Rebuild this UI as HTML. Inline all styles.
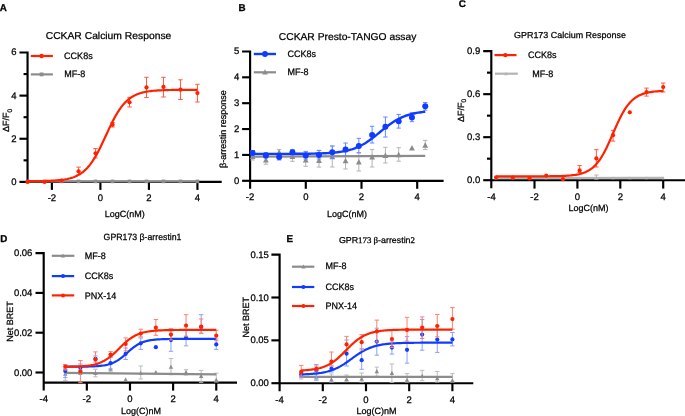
<!DOCTYPE html>
<html><head><meta charset="utf-8"><style>
html,body{margin:0;padding:0;background:#fff;}
svg{display:block;} text{stroke:#000;stroke-width:0.25px;text-rendering:geometricPrecision;} text.b{stroke-width:0.3px;} .wrap{will-change:transform;filter:blur(0.3px);}
</style></head><body>
<div class="wrap"><svg width="685" height="416" viewBox="0 0 685 416">
<rect width="685" height="416" fill="#fff"/>
<path d="M19.45,52.48 H27.55 V182.90" fill="none" stroke="#000" stroke-width="2.15"/>
<line x1="27.55" y1="181.90" x2="221.70" y2="181.90" stroke="#000" stroke-width="2.15" stroke-linecap="butt"/>
<line x1="19.45" y1="181.90" x2="27.55" y2="181.90" stroke="#000" stroke-width="2.15" stroke-linecap="butt"/>
<line x1="19.45" y1="138.76" x2="27.55" y2="138.76" stroke="#000" stroke-width="2.15" stroke-linecap="butt"/>
<line x1="19.45" y1="95.62" x2="27.55" y2="95.62" stroke="#000" stroke-width="2.15" stroke-linecap="butt"/>
<line x1="23.55" y1="160.33" x2="27.55" y2="160.33" stroke="#000" stroke-width="2.15" stroke-linecap="butt"/>
<line x1="23.55" y1="117.19" x2="27.55" y2="117.19" stroke="#000" stroke-width="2.15" stroke-linecap="butt"/>
<line x1="23.55" y1="74.05" x2="27.55" y2="74.05" stroke="#000" stroke-width="2.15" stroke-linecap="butt"/>
<line x1="51.88" y1="181.90" x2="51.88" y2="189.90" stroke="#000" stroke-width="2.15" stroke-linecap="butt"/>
<line x1="100.40" y1="181.90" x2="100.40" y2="189.90" stroke="#000" stroke-width="2.15" stroke-linecap="butt"/>
<line x1="148.92" y1="181.90" x2="148.92" y2="189.90" stroke="#000" stroke-width="2.15" stroke-linecap="butt"/>
<line x1="197.44" y1="181.90" x2="197.44" y2="189.90" stroke="#000" stroke-width="2.15" stroke-linecap="butt"/>
<text x="16.60" y="184.90" font-size="9.5" text-anchor="end" font-weight="normal" font-family='"Liberation Sans", sans-serif' >0</text>
<text x="16.60" y="141.76" font-size="9.5" text-anchor="end" font-weight="normal" font-family='"Liberation Sans", sans-serif' >2</text>
<text x="16.60" y="98.62" font-size="9.5" text-anchor="end" font-weight="normal" font-family='"Liberation Sans", sans-serif' >4</text>
<text x="16.60" y="55.48" font-size="9.5" text-anchor="end" font-weight="normal" font-family='"Liberation Sans", sans-serif' >6</text>
<text x="51.88" y="201.30" font-size="9.5" text-anchor="middle" font-weight="normal" font-family='"Liberation Sans", sans-serif' >-2</text>
<text x="100.40" y="201.30" font-size="9.5" text-anchor="middle" font-weight="normal" font-family='"Liberation Sans", sans-serif' >0</text>
<text x="148.92" y="201.30" font-size="9.5" text-anchor="middle" font-weight="normal" font-family='"Liberation Sans", sans-serif' >2</text>
<text x="197.44" y="201.30" font-size="9.5" text-anchor="middle" font-weight="normal" font-family='"Liberation Sans", sans-serif' >4</text>
<text x="104.80" y="216.60" font-size="9" text-anchor="start" font-weight="normal" font-family='"Liberation Sans", sans-serif' >LogC(nM)</text>
<text x="-0.20" y="10.80" font-size="9.8" text-anchor="start" font-weight="bold" font-family='"Liberation Sans", sans-serif'  class="b">A</text>
<text x="45.70" y="38.70" font-size="10" text-anchor="start" font-weight="normal" font-family='"Liberation Sans", sans-serif'  textLength="125.6" lengthAdjust="spacingAndGlyphs">CCKAR Calcium Response</text>
<text transform="translate(9.3,132) rotate(-90)" font-size="9" font-family='"Liberation Sans", sans-serif'>ΔF/F<tspan font-size="6.5" dy="2.6">0</tspan></text>
<line x1="30.80" y1="56.00" x2="52.90" y2="56.00" stroke="#ff2200" stroke-width="2.2" stroke-linecap="butt"/>
<circle cx="41.60" cy="56.00" r="2.2" fill="#ff2200"/>
<line x1="30.80" y1="74.40" x2="52.90" y2="74.40" stroke="#8c8c8c" stroke-width="2.2" stroke-linecap="butt"/>
<rect x="39.70" y="72.50" width="3.8" height="3.8" fill="#8c8c8c"/>
<text transform="translate(64.10,58.60) scale(0.97,1.0)" font-size="9.3" text-anchor="start" font-weight="normal" font-family='"Liberation Sans", sans-serif' >CCK8s</text>
<text transform="translate(64.30,77.10) scale(0.97,1.0)" font-size="9.3" text-anchor="start" font-weight="normal" font-family='"Liberation Sans", sans-serif' >MF-8</text>
<line x1="27.62" y1="181.40" x2="197.44" y2="181.40" stroke="#8c8c8c" stroke-width="2.2" stroke-linecap="butt"/>
<rect x="25.82" y="179.60" width="3.6" height="3.6" fill="#8c8c8c"/>
<rect x="42.80" y="179.60" width="3.6" height="3.6" fill="#8c8c8c"/>
<rect x="59.78" y="179.60" width="3.6" height="3.6" fill="#8c8c8c"/>
<rect x="76.77" y="179.60" width="3.6" height="3.6" fill="#8c8c8c"/>
<rect x="93.75" y="179.60" width="3.6" height="3.6" fill="#8c8c8c"/>
<rect x="110.73" y="179.60" width="3.6" height="3.6" fill="#8c8c8c"/>
<rect x="127.71" y="179.60" width="3.6" height="3.6" fill="#8c8c8c"/>
<rect x="144.69" y="179.60" width="3.6" height="3.6" fill="#8c8c8c"/>
<rect x="161.68" y="179.60" width="3.6" height="3.6" fill="#8c8c8c"/>
<rect x="178.66" y="179.60" width="3.6" height="3.6" fill="#8c8c8c"/>
<rect x="195.64" y="179.60" width="3.6" height="3.6" fill="#8c8c8c"/>
<line x1="78.57" y1="167.10" x2="78.57" y2="174.70" stroke="#ff5a3c" stroke-width="1" stroke-linecap="butt"/>
<line x1="76.37" y1="167.10" x2="80.77" y2="167.10" stroke="#ff5a3c" stroke-width="1" stroke-linecap="butt"/>
<line x1="76.37" y1="174.70" x2="80.77" y2="174.70" stroke="#ff5a3c" stroke-width="1" stroke-linecap="butt"/>
<line x1="95.55" y1="148.60" x2="95.55" y2="157.90" stroke="#ff5a3c" stroke-width="1" stroke-linecap="butt"/>
<line x1="93.35" y1="148.60" x2="97.75" y2="148.60" stroke="#ff5a3c" stroke-width="1" stroke-linecap="butt"/>
<line x1="93.35" y1="157.90" x2="97.75" y2="157.90" stroke="#ff5a3c" stroke-width="1" stroke-linecap="butt"/>
<line x1="112.53" y1="122.50" x2="112.53" y2="127.00" stroke="#ff5a3c" stroke-width="1" stroke-linecap="butt"/>
<line x1="110.33" y1="122.50" x2="114.73" y2="122.50" stroke="#ff5a3c" stroke-width="1" stroke-linecap="butt"/>
<line x1="110.33" y1="127.00" x2="114.73" y2="127.00" stroke="#ff5a3c" stroke-width="1" stroke-linecap="butt"/>
<line x1="129.51" y1="97.30" x2="129.51" y2="107.00" stroke="#ff5a3c" stroke-width="1" stroke-linecap="butt"/>
<line x1="127.31" y1="97.30" x2="131.71" y2="97.30" stroke="#ff5a3c" stroke-width="1" stroke-linecap="butt"/>
<line x1="127.31" y1="107.00" x2="131.71" y2="107.00" stroke="#ff5a3c" stroke-width="1" stroke-linecap="butt"/>
<line x1="146.49" y1="77.30" x2="146.49" y2="97.50" stroke="#ff5a3c" stroke-width="1" stroke-linecap="butt"/>
<line x1="144.29" y1="77.30" x2="148.69" y2="77.30" stroke="#ff5a3c" stroke-width="1" stroke-linecap="butt"/>
<line x1="144.29" y1="97.50" x2="148.69" y2="97.50" stroke="#ff5a3c" stroke-width="1" stroke-linecap="butt"/>
<line x1="163.48" y1="77.30" x2="163.48" y2="97.00" stroke="#ff5a3c" stroke-width="1" stroke-linecap="butt"/>
<line x1="161.28" y1="77.30" x2="165.68" y2="77.30" stroke="#ff5a3c" stroke-width="1" stroke-linecap="butt"/>
<line x1="161.28" y1="97.00" x2="165.68" y2="97.00" stroke="#ff5a3c" stroke-width="1" stroke-linecap="butt"/>
<line x1="180.46" y1="79.80" x2="180.46" y2="99.50" stroke="#ff5a3c" stroke-width="1" stroke-linecap="butt"/>
<line x1="178.26" y1="79.80" x2="182.66" y2="79.80" stroke="#ff5a3c" stroke-width="1" stroke-linecap="butt"/>
<line x1="178.26" y1="99.50" x2="182.66" y2="99.50" stroke="#ff5a3c" stroke-width="1" stroke-linecap="butt"/>
<line x1="197.44" y1="84.30" x2="197.44" y2="102.00" stroke="#ff5a3c" stroke-width="1" stroke-linecap="butt"/>
<line x1="195.24" y1="84.30" x2="199.64" y2="84.30" stroke="#ff5a3c" stroke-width="1" stroke-linecap="butt"/>
<line x1="195.24" y1="102.00" x2="199.64" y2="102.00" stroke="#ff5a3c" stroke-width="1" stroke-linecap="butt"/>
<polyline points="27.62,181.20 29.04,181.19 30.45,181.18 31.87,181.17 33.28,181.16 34.70,181.15 36.11,181.13 37.53,181.11 38.94,181.09 40.36,181.07 41.77,181.05 43.19,181.02 44.60,180.98 46.02,180.94 47.43,180.90 48.85,180.85 50.26,180.79 51.68,180.72 53.09,180.65 54.51,180.56 55.92,180.46 57.34,180.35 58.75,180.22 60.17,180.08 61.58,179.91 63.00,179.72 64.41,179.51 65.83,179.26 67.24,178.98 68.66,178.66 70.08,178.30 71.49,177.89 72.91,177.43 74.32,176.91 75.74,176.32 77.15,175.65 78.57,174.90 79.98,174.06 81.40,173.12 82.81,172.06 84.23,170.89 85.64,169.59 87.06,168.16 88.47,166.58 89.89,164.85 91.30,162.96 92.72,160.91 94.13,158.71 95.55,156.35 96.96,153.85 98.38,151.20 99.79,148.43 101.21,145.55 102.62,142.59 104.04,139.57 105.45,136.51 106.87,133.44 108.28,130.39 109.70,127.38 111.11,124.45 112.53,121.61 113.95,118.88 115.36,116.28 116.78,113.83 118.19,111.53 119.61,109.38 121.02,107.39 122.44,105.56 123.85,103.89 125.27,102.36 126.68,100.97 128.10,99.72 129.51,98.59 130.93,97.58 132.34,96.68 133.76,95.87 135.17,95.15 136.59,94.51 138.00,93.95 139.42,93.45 140.83,93.00 142.25,92.61 143.66,92.27 145.08,91.96 146.49,91.70 147.91,91.46 149.32,91.26 150.74,91.08 152.15,90.92 153.57,90.78 154.99,90.66 156.40,90.55 157.82,90.45 159.23,90.37 160.65,90.30 162.06,90.24 163.48,90.18 164.89,90.13 166.31,90.09 167.72,90.05 169.14,90.02 170.55,89.99 171.97,89.97 173.38,89.95 174.80,89.93 176.21,89.91 177.63,89.90 179.04,89.88 180.46,89.87 181.87,89.86 183.29,89.86 184.70,89.85 186.12,89.84 187.53,89.84 188.95,89.83 190.36,89.83 191.78,89.82 193.19,89.82 194.61,89.82 196.02,89.81 197.44,89.81" fill="none" stroke="#ff2200" stroke-width="2.2" stroke-linejoin="round"/>
<circle cx="27.62" cy="181.90" r="2.15" fill="#ff2200"/>
<circle cx="44.60" cy="181.90" r="2.15" fill="#ff2200"/>
<circle cx="61.58" cy="180.60" r="2.15" fill="#ff2200"/>
<circle cx="78.57" cy="171.30" r="2.15" fill="#ff2200"/>
<circle cx="95.55" cy="153.30" r="2.15" fill="#ff2200"/>
<circle cx="112.53" cy="124.70" r="2.15" fill="#ff2200"/>
<circle cx="129.51" cy="102.30" r="2.15" fill="#ff2200"/>
<circle cx="146.49" cy="87.40" r="2.15" fill="#ff2200"/>
<circle cx="163.48" cy="86.90" r="2.15" fill="#ff2200"/>
<circle cx="180.46" cy="89.70" r="2.15" fill="#ff2200"/>
<circle cx="197.44" cy="93.10" r="2.15" fill="#ff2200"/>
<path d="M242.10,51.45 H250.10 V188.80" fill="none" stroke="#000" stroke-width="2.15"/>
<line x1="250.10" y1="180.80" x2="443.60" y2="180.80" stroke="#000" stroke-width="2.15" stroke-linecap="butt"/>
<line x1="242.10" y1="180.80" x2="250.10" y2="180.80" stroke="#000" stroke-width="2.15" stroke-linecap="butt"/>
<line x1="242.10" y1="154.93" x2="250.10" y2="154.93" stroke="#000" stroke-width="2.15" stroke-linecap="butt"/>
<line x1="242.10" y1="129.06" x2="250.10" y2="129.06" stroke="#000" stroke-width="2.15" stroke-linecap="butt"/>
<line x1="242.10" y1="103.19" x2="250.10" y2="103.19" stroke="#000" stroke-width="2.15" stroke-linecap="butt"/>
<line x1="242.10" y1="77.32" x2="250.10" y2="77.32" stroke="#000" stroke-width="2.15" stroke-linecap="butt"/>
<line x1="305.80" y1="180.80" x2="305.80" y2="188.80" stroke="#000" stroke-width="2.15" stroke-linecap="butt"/>
<line x1="361.50" y1="180.80" x2="361.50" y2="188.80" stroke="#000" stroke-width="2.15" stroke-linecap="butt"/>
<line x1="417.20" y1="180.80" x2="417.20" y2="188.80" stroke="#000" stroke-width="2.15" stroke-linecap="butt"/>
<text x="239.20" y="183.80" font-size="9.5" text-anchor="end" font-weight="normal" font-family='"Liberation Sans", sans-serif' >0</text>
<text x="239.20" y="157.93" font-size="9.5" text-anchor="end" font-weight="normal" font-family='"Liberation Sans", sans-serif' >1</text>
<text x="239.20" y="132.06" font-size="9.5" text-anchor="end" font-weight="normal" font-family='"Liberation Sans", sans-serif' >2</text>
<text x="239.20" y="106.19" font-size="9.5" text-anchor="end" font-weight="normal" font-family='"Liberation Sans", sans-serif' >3</text>
<text x="239.20" y="80.32" font-size="9.5" text-anchor="end" font-weight="normal" font-family='"Liberation Sans", sans-serif' >4</text>
<text x="239.20" y="54.45" font-size="9.5" text-anchor="end" font-weight="normal" font-family='"Liberation Sans", sans-serif' >5</text>
<text x="250.10" y="200.30" font-size="9.5" text-anchor="middle" font-weight="normal" font-family='"Liberation Sans", sans-serif' >-2</text>
<text x="305.80" y="200.30" font-size="9.5" text-anchor="middle" font-weight="normal" font-family='"Liberation Sans", sans-serif' >0</text>
<text x="361.50" y="200.30" font-size="9.5" text-anchor="middle" font-weight="normal" font-family='"Liberation Sans", sans-serif' >2</text>
<text x="417.20" y="200.30" font-size="9.5" text-anchor="middle" font-weight="normal" font-family='"Liberation Sans", sans-serif' >4</text>
<text x="327.00" y="216.50" font-size="9" text-anchor="start" font-weight="normal" font-family='"Liberation Sans", sans-serif' >LogC(nM)</text>
<text x="238.50" y="10.70" font-size="9.8" text-anchor="start" font-weight="bold" font-family='"Liberation Sans", sans-serif'  class="b">B</text>
<text x="278.80" y="40.30" font-size="10" text-anchor="start" font-weight="normal" font-family='"Liberation Sans", sans-serif'  textLength="137.5" lengthAdjust="spacingAndGlyphs">CCKAR Presto-TANGO assay</text>
<text transform="translate(226.3,168) rotate(-90)" font-size="9" font-family='"Liberation Sans", sans-serif'>β-arrestin response</text>
<line x1="253.80" y1="54.00" x2="276.00" y2="54.00" stroke="#0f3cff" stroke-width="2.4" stroke-linecap="butt"/>
<circle cx="265.00" cy="54.00" r="2.9" fill="#0f3cff"/>
<line x1="253.80" y1="72.30" x2="276.00" y2="72.30" stroke="#8c8c8c" stroke-width="2.2" stroke-linecap="butt"/>
<path d="M265.00,69.21 L267.80,74.53 L262.20,74.53 Z" fill="#8c8c8c"/>
<text transform="translate(287.50,56.90) scale(0.97,1.0)" font-size="9.3" text-anchor="start" font-weight="normal" font-family='"Liberation Sans", sans-serif' >CCK8s</text>
<text transform="translate(287.50,75.40) scale(0.97,1.0)" font-size="9.3" text-anchor="start" font-weight="normal" font-family='"Liberation Sans", sans-serif' >MF-8</text>
<line x1="252.60" y1="153.00" x2="252.60" y2="160.00" stroke="#b4b4b4" stroke-width="1" stroke-linecap="butt"/>
<line x1="250.40" y1="153.00" x2="254.80" y2="153.00" stroke="#b4b4b4" stroke-width="1" stroke-linecap="butt"/>
<line x1="250.40" y1="160.00" x2="254.80" y2="160.00" stroke="#b4b4b4" stroke-width="1" stroke-linecap="butt"/>
<line x1="265.88" y1="156.00" x2="265.88" y2="164.20" stroke="#b4b4b4" stroke-width="1" stroke-linecap="butt"/>
<line x1="263.68" y1="156.00" x2="268.08" y2="156.00" stroke="#b4b4b4" stroke-width="1" stroke-linecap="butt"/>
<line x1="263.68" y1="164.20" x2="268.08" y2="164.20" stroke="#b4b4b4" stroke-width="1" stroke-linecap="butt"/>
<line x1="279.16" y1="149.60" x2="279.16" y2="156.00" stroke="#b4b4b4" stroke-width="1" stroke-linecap="butt"/>
<line x1="276.96" y1="149.60" x2="281.36" y2="149.60" stroke="#b4b4b4" stroke-width="1" stroke-linecap="butt"/>
<line x1="276.96" y1="156.00" x2="281.36" y2="156.00" stroke="#b4b4b4" stroke-width="1" stroke-linecap="butt"/>
<line x1="292.44" y1="151.00" x2="292.44" y2="161.30" stroke="#b4b4b4" stroke-width="1" stroke-linecap="butt"/>
<line x1="290.24" y1="151.00" x2="294.64" y2="151.00" stroke="#b4b4b4" stroke-width="1" stroke-linecap="butt"/>
<line x1="290.24" y1="161.30" x2="294.64" y2="161.30" stroke="#b4b4b4" stroke-width="1" stroke-linecap="butt"/>
<line x1="305.72" y1="153.00" x2="305.72" y2="166.30" stroke="#b4b4b4" stroke-width="1" stroke-linecap="butt"/>
<line x1="303.52" y1="153.00" x2="307.92" y2="153.00" stroke="#b4b4b4" stroke-width="1" stroke-linecap="butt"/>
<line x1="303.52" y1="166.30" x2="307.92" y2="166.30" stroke="#b4b4b4" stroke-width="1" stroke-linecap="butt"/>
<line x1="319.00" y1="150.40" x2="319.00" y2="167.10" stroke="#b4b4b4" stroke-width="1" stroke-linecap="butt"/>
<line x1="316.80" y1="150.40" x2="321.20" y2="150.40" stroke="#b4b4b4" stroke-width="1" stroke-linecap="butt"/>
<line x1="316.80" y1="167.10" x2="321.20" y2="167.10" stroke="#b4b4b4" stroke-width="1" stroke-linecap="butt"/>
<line x1="332.28" y1="146.00" x2="332.28" y2="167.00" stroke="#b4b4b4" stroke-width="1" stroke-linecap="butt"/>
<line x1="330.08" y1="146.00" x2="334.48" y2="146.00" stroke="#b4b4b4" stroke-width="1" stroke-linecap="butt"/>
<line x1="330.08" y1="167.00" x2="334.48" y2="167.00" stroke="#b4b4b4" stroke-width="1" stroke-linecap="butt"/>
<line x1="345.56" y1="152.00" x2="345.56" y2="169.00" stroke="#b4b4b4" stroke-width="1" stroke-linecap="butt"/>
<line x1="343.36" y1="152.00" x2="347.76" y2="152.00" stroke="#b4b4b4" stroke-width="1" stroke-linecap="butt"/>
<line x1="343.36" y1="169.00" x2="347.76" y2="169.00" stroke="#b4b4b4" stroke-width="1" stroke-linecap="butt"/>
<line x1="358.84" y1="153.00" x2="358.84" y2="171.00" stroke="#b4b4b4" stroke-width="1" stroke-linecap="butt"/>
<line x1="356.64" y1="153.00" x2="361.04" y2="153.00" stroke="#b4b4b4" stroke-width="1" stroke-linecap="butt"/>
<line x1="356.64" y1="171.00" x2="361.04" y2="171.00" stroke="#b4b4b4" stroke-width="1" stroke-linecap="butt"/>
<line x1="372.12" y1="149.40" x2="372.12" y2="167.00" stroke="#b4b4b4" stroke-width="1" stroke-linecap="butt"/>
<line x1="369.92" y1="149.40" x2="374.32" y2="149.40" stroke="#b4b4b4" stroke-width="1" stroke-linecap="butt"/>
<line x1="369.92" y1="167.00" x2="374.32" y2="167.00" stroke="#b4b4b4" stroke-width="1" stroke-linecap="butt"/>
<line x1="385.40" y1="147.30" x2="385.40" y2="163.00" stroke="#b4b4b4" stroke-width="1" stroke-linecap="butt"/>
<line x1="383.20" y1="147.30" x2="387.60" y2="147.30" stroke="#b4b4b4" stroke-width="1" stroke-linecap="butt"/>
<line x1="383.20" y1="163.00" x2="387.60" y2="163.00" stroke="#b4b4b4" stroke-width="1" stroke-linecap="butt"/>
<line x1="398.68" y1="147.70" x2="398.68" y2="161.20" stroke="#b4b4b4" stroke-width="1" stroke-linecap="butt"/>
<line x1="396.48" y1="147.70" x2="400.88" y2="147.70" stroke="#b4b4b4" stroke-width="1" stroke-linecap="butt"/>
<line x1="396.48" y1="161.20" x2="400.88" y2="161.20" stroke="#b4b4b4" stroke-width="1" stroke-linecap="butt"/>
<line x1="425.24" y1="140.40" x2="425.24" y2="149.60" stroke="#b4b4b4" stroke-width="1" stroke-linecap="butt"/>
<line x1="423.04" y1="140.40" x2="427.44" y2="140.40" stroke="#b4b4b4" stroke-width="1" stroke-linecap="butt"/>
<line x1="423.04" y1="149.60" x2="427.44" y2="149.60" stroke="#b4b4b4" stroke-width="1" stroke-linecap="butt"/>
<line x1="252.60" y1="156.60" x2="425.24" y2="155.80" stroke="#8c8c8c" stroke-width="2.2" stroke-linecap="butt"/>
<path d="M252.60,153.40 L255.50,158.91 L249.70,158.91 Z" fill="#8c8c8c"/>
<path d="M265.88,156.90 L268.78,162.41 L262.98,162.41 Z" fill="#8c8c8c"/>
<path d="M279.16,149.30 L282.06,154.81 L276.26,154.81 Z" fill="#8c8c8c"/>
<path d="M292.44,153.40 L295.34,158.91 L289.54,158.91 Z" fill="#8c8c8c"/>
<path d="M305.72,156.90 L308.62,162.41 L302.82,162.41 Z" fill="#8c8c8c"/>
<path d="M319.00,157.50 L321.90,163.01 L316.10,163.01 Z" fill="#8c8c8c"/>
<path d="M332.28,153.70 L335.18,159.21 L329.38,159.21 Z" fill="#8c8c8c"/>
<path d="M345.56,157.80 L348.46,163.31 L342.66,163.31 Z" fill="#8c8c8c"/>
<path d="M358.84,159.10 L361.74,164.61 L355.94,164.61 Z" fill="#8c8c8c"/>
<path d="M372.12,154.10 L375.02,159.61 L369.22,159.61 Z" fill="#8c8c8c"/>
<path d="M385.40,152.60 L388.30,158.11 L382.50,158.11 Z" fill="#8c8c8c"/>
<path d="M398.68,151.80 L401.58,157.31 L395.78,157.31 Z" fill="#8c8c8c"/>
<path d="M411.96,145.10 L414.86,150.61 L409.06,150.61 Z" fill="#8c8c8c"/>
<path d="M425.24,142.20 L428.14,147.71 L422.34,147.71 Z" fill="#8c8c8c"/>
<line x1="252.60" y1="150.50" x2="252.60" y2="156.00" stroke="#6a86ff" stroke-width="1" stroke-linecap="butt"/>
<line x1="250.40" y1="150.50" x2="254.80" y2="150.50" stroke="#6a86ff" stroke-width="1" stroke-linecap="butt"/>
<line x1="250.40" y1="156.00" x2="254.80" y2="156.00" stroke="#6a86ff" stroke-width="1" stroke-linecap="butt"/>
<line x1="265.88" y1="152.50" x2="265.88" y2="158.00" stroke="#6a86ff" stroke-width="1" stroke-linecap="butt"/>
<line x1="263.68" y1="152.50" x2="268.08" y2="152.50" stroke="#6a86ff" stroke-width="1" stroke-linecap="butt"/>
<line x1="263.68" y1="158.00" x2="268.08" y2="158.00" stroke="#6a86ff" stroke-width="1" stroke-linecap="butt"/>
<line x1="279.16" y1="154.50" x2="279.16" y2="160.00" stroke="#6a86ff" stroke-width="1" stroke-linecap="butt"/>
<line x1="276.96" y1="154.50" x2="281.36" y2="154.50" stroke="#6a86ff" stroke-width="1" stroke-linecap="butt"/>
<line x1="276.96" y1="160.00" x2="281.36" y2="160.00" stroke="#6a86ff" stroke-width="1" stroke-linecap="butt"/>
<line x1="292.44" y1="149.60" x2="292.44" y2="155.00" stroke="#6a86ff" stroke-width="1" stroke-linecap="butt"/>
<line x1="290.24" y1="149.60" x2="294.64" y2="149.60" stroke="#6a86ff" stroke-width="1" stroke-linecap="butt"/>
<line x1="290.24" y1="155.00" x2="294.64" y2="155.00" stroke="#6a86ff" stroke-width="1" stroke-linecap="butt"/>
<line x1="305.72" y1="151.40" x2="305.72" y2="159.00" stroke="#6a86ff" stroke-width="1" stroke-linecap="butt"/>
<line x1="303.52" y1="151.40" x2="307.92" y2="151.40" stroke="#6a86ff" stroke-width="1" stroke-linecap="butt"/>
<line x1="303.52" y1="159.00" x2="307.92" y2="159.00" stroke="#6a86ff" stroke-width="1" stroke-linecap="butt"/>
<line x1="319.00" y1="150.40" x2="319.00" y2="159.00" stroke="#6a86ff" stroke-width="1" stroke-linecap="butt"/>
<line x1="316.80" y1="150.40" x2="321.20" y2="150.40" stroke="#6a86ff" stroke-width="1" stroke-linecap="butt"/>
<line x1="316.80" y1="159.00" x2="321.20" y2="159.00" stroke="#6a86ff" stroke-width="1" stroke-linecap="butt"/>
<line x1="332.28" y1="146.00" x2="332.28" y2="158.50" stroke="#6a86ff" stroke-width="1" stroke-linecap="butt"/>
<line x1="330.08" y1="146.00" x2="334.48" y2="146.00" stroke="#6a86ff" stroke-width="1" stroke-linecap="butt"/>
<line x1="330.08" y1="158.50" x2="334.48" y2="158.50" stroke="#6a86ff" stroke-width="1" stroke-linecap="butt"/>
<line x1="345.56" y1="143.00" x2="345.56" y2="155.60" stroke="#6a86ff" stroke-width="1" stroke-linecap="butt"/>
<line x1="343.36" y1="143.00" x2="347.76" y2="143.00" stroke="#6a86ff" stroke-width="1" stroke-linecap="butt"/>
<line x1="343.36" y1="155.60" x2="347.76" y2="155.60" stroke="#6a86ff" stroke-width="1" stroke-linecap="butt"/>
<line x1="358.84" y1="138.30" x2="358.84" y2="152.70" stroke="#6a86ff" stroke-width="1" stroke-linecap="butt"/>
<line x1="356.64" y1="138.30" x2="361.04" y2="138.30" stroke="#6a86ff" stroke-width="1" stroke-linecap="butt"/>
<line x1="356.64" y1="152.70" x2="361.04" y2="152.70" stroke="#6a86ff" stroke-width="1" stroke-linecap="butt"/>
<line x1="372.12" y1="126.30" x2="372.12" y2="143.00" stroke="#6a86ff" stroke-width="1" stroke-linecap="butt"/>
<line x1="369.92" y1="126.30" x2="374.32" y2="126.30" stroke="#6a86ff" stroke-width="1" stroke-linecap="butt"/>
<line x1="369.92" y1="143.00" x2="374.32" y2="143.00" stroke="#6a86ff" stroke-width="1" stroke-linecap="butt"/>
<line x1="385.40" y1="117.00" x2="385.40" y2="137.00" stroke="#6a86ff" stroke-width="1" stroke-linecap="butt"/>
<line x1="383.20" y1="117.00" x2="387.60" y2="117.00" stroke="#6a86ff" stroke-width="1" stroke-linecap="butt"/>
<line x1="383.20" y1="137.00" x2="387.60" y2="137.00" stroke="#6a86ff" stroke-width="1" stroke-linecap="butt"/>
<line x1="398.68" y1="114.40" x2="398.68" y2="128.10" stroke="#6a86ff" stroke-width="1" stroke-linecap="butt"/>
<line x1="396.48" y1="114.40" x2="400.88" y2="114.40" stroke="#6a86ff" stroke-width="1" stroke-linecap="butt"/>
<line x1="396.48" y1="128.10" x2="400.88" y2="128.10" stroke="#6a86ff" stroke-width="1" stroke-linecap="butt"/>
<line x1="411.96" y1="112.70" x2="411.96" y2="121.70" stroke="#6a86ff" stroke-width="1" stroke-linecap="butt"/>
<line x1="409.76" y1="112.70" x2="414.16" y2="112.70" stroke="#6a86ff" stroke-width="1" stroke-linecap="butt"/>
<line x1="409.76" y1="121.70" x2="414.16" y2="121.70" stroke="#6a86ff" stroke-width="1" stroke-linecap="butt"/>
<line x1="425.24" y1="102.50" x2="425.24" y2="110.20" stroke="#6a86ff" stroke-width="1" stroke-linecap="butt"/>
<line x1="423.04" y1="102.50" x2="427.44" y2="102.50" stroke="#6a86ff" stroke-width="1" stroke-linecap="butt"/>
<line x1="423.04" y1="110.20" x2="427.44" y2="110.20" stroke="#6a86ff" stroke-width="1" stroke-linecap="butt"/>
<polyline points="252.60,153.89 254.04,153.89 255.48,153.89 256.92,153.89 258.35,153.89 259.79,153.89 261.23,153.89 262.67,153.89 264.11,153.89 265.55,153.89 266.99,153.89 268.43,153.89 269.86,153.89 271.30,153.88 272.74,153.88 274.18,153.88 275.62,153.88 277.06,153.88 278.50,153.88 279.93,153.87 281.37,153.87 282.81,153.87 284.25,153.87 285.69,153.86 287.13,153.86 288.57,153.85 290.01,153.85 291.44,153.84 292.88,153.84 294.32,153.83 295.76,153.82 297.20,153.81 298.64,153.81 300.08,153.80 301.51,153.78 302.95,153.77 304.39,153.76 305.83,153.74 307.27,153.72 308.71,153.70 310.15,153.68 311.59,153.66 313.02,153.63 314.46,153.60 315.90,153.56 317.34,153.53 318.78,153.48 320.22,153.44 321.66,153.38 323.09,153.32 324.53,153.26 325.97,153.19 327.41,153.11 328.85,153.02 330.29,152.92 331.73,152.81 333.17,152.69 334.60,152.55 336.04,152.40 337.48,152.23 338.92,152.05 340.36,151.85 341.80,151.62 343.24,151.37 344.67,151.10 346.11,150.80 347.55,150.47 348.99,150.11 350.43,149.71 351.87,149.28 353.31,148.81 354.75,148.30 356.18,147.74 357.62,147.14 359.06,146.49 360.50,145.80 361.94,145.05 363.38,144.26 364.82,143.41 366.25,142.52 367.69,141.57 369.13,140.58 370.57,139.55 372.01,138.48 373.45,137.38 374.89,136.24 376.33,135.09 377.76,133.91 379.20,132.72 380.64,131.54 382.08,130.35 383.52,129.18 384.96,128.02 386.40,126.89 387.83,125.78 389.27,124.72 390.71,123.69 392.15,122.70 393.59,121.76 395.03,120.87 396.47,120.03 397.91,119.23 399.34,118.49 400.78,117.80 402.22,117.15 403.66,116.55 405.10,116.00 406.54,115.49 407.98,115.02 409.41,114.59 410.85,114.20 412.29,113.84 413.73,113.51 415.17,113.21 416.61,112.94 418.05,112.69 419.49,112.47 420.92,112.27 422.36,112.09 423.80,111.92 425.24,111.77" fill="none" stroke="#0f3cff" stroke-width="2.4" stroke-linejoin="round"/>
<circle cx="252.60" cy="153.10" r="3.0" fill="#0f3cff"/>
<circle cx="265.88" cy="155.40" r="3.0" fill="#0f3cff"/>
<circle cx="279.16" cy="157.00" r="3.0" fill="#0f3cff"/>
<circle cx="292.44" cy="152.30" r="3.0" fill="#0f3cff"/>
<circle cx="305.72" cy="155.40" r="3.0" fill="#0f3cff"/>
<circle cx="319.00" cy="154.90" r="3.0" fill="#0f3cff"/>
<circle cx="332.28" cy="152.30" r="3.0" fill="#0f3cff"/>
<circle cx="345.56" cy="149.40" r="3.0" fill="#0f3cff"/>
<circle cx="358.84" cy="146.00" r="3.0" fill="#0f3cff"/>
<circle cx="372.12" cy="135.00" r="3.0" fill="#0f3cff"/>
<circle cx="385.40" cy="126.80" r="3.0" fill="#0f3cff"/>
<circle cx="398.68" cy="121.20" r="3.0" fill="#0f3cff"/>
<circle cx="411.96" cy="117.50" r="3.0" fill="#0f3cff"/>
<circle cx="425.24" cy="106.30" r="3.0" fill="#0f3cff"/>
<path d="M483.20,51.14 H491.30 V188.20" fill="none" stroke="#000" stroke-width="2.15"/>
<line x1="491.30" y1="180.20" x2="685.00" y2="180.20" stroke="#000" stroke-width="2.15" stroke-linecap="butt"/>
<line x1="483.20" y1="180.20" x2="491.30" y2="180.20" stroke="#000" stroke-width="2.15" stroke-linecap="butt"/>
<line x1="483.20" y1="137.18" x2="491.30" y2="137.18" stroke="#000" stroke-width="2.15" stroke-linecap="butt"/>
<line x1="483.20" y1="94.16" x2="491.30" y2="94.16" stroke="#000" stroke-width="2.15" stroke-linecap="butt"/>
<line x1="487.00" y1="158.69" x2="491.30" y2="158.69" stroke="#000" stroke-width="2.15" stroke-linecap="butt"/>
<line x1="487.00" y1="115.67" x2="491.30" y2="115.67" stroke="#000" stroke-width="2.15" stroke-linecap="butt"/>
<line x1="487.00" y1="72.65" x2="491.30" y2="72.65" stroke="#000" stroke-width="2.15" stroke-linecap="butt"/>
<line x1="534.50" y1="180.20" x2="534.50" y2="188.60" stroke="#000" stroke-width="2.15" stroke-linecap="butt"/>
<line x1="577.40" y1="180.20" x2="577.40" y2="188.60" stroke="#000" stroke-width="2.15" stroke-linecap="butt"/>
<line x1="620.30" y1="180.20" x2="620.30" y2="188.60" stroke="#000" stroke-width="2.15" stroke-linecap="butt"/>
<line x1="663.20" y1="180.20" x2="663.20" y2="188.60" stroke="#000" stroke-width="2.15" stroke-linecap="butt"/>
<text x="480.20" y="183.20" font-size="9.5" text-anchor="end" font-weight="normal" font-family='"Liberation Sans", sans-serif' >0.0</text>
<text x="480.20" y="140.18" font-size="9.5" text-anchor="end" font-weight="normal" font-family='"Liberation Sans", sans-serif' >0.3</text>
<text x="480.20" y="97.16" font-size="9.5" text-anchor="end" font-weight="normal" font-family='"Liberation Sans", sans-serif' >0.6</text>
<text x="480.20" y="54.14" font-size="9.5" text-anchor="end" font-weight="normal" font-family='"Liberation Sans", sans-serif' >0.9</text>
<text x="491.60" y="200.00" font-size="9.5" text-anchor="middle" font-weight="normal" font-family='"Liberation Sans", sans-serif' >-4</text>
<text x="534.50" y="200.00" font-size="9.5" text-anchor="middle" font-weight="normal" font-family='"Liberation Sans", sans-serif' >-2</text>
<text x="577.40" y="200.00" font-size="9.5" text-anchor="middle" font-weight="normal" font-family='"Liberation Sans", sans-serif' >0</text>
<text x="620.30" y="200.00" font-size="9.5" text-anchor="middle" font-weight="normal" font-family='"Liberation Sans", sans-serif' >2</text>
<text x="663.20" y="200.00" font-size="9.5" text-anchor="middle" font-weight="normal" font-family='"Liberation Sans", sans-serif' >4</text>
<text x="568.50" y="210.60" font-size="9" text-anchor="start" font-weight="normal" font-family='"Liberation Sans", sans-serif' >LogC(nM)</text>
<text x="458.80" y="6.90" font-size="9.8" text-anchor="start" font-weight="bold" font-family='"Liberation Sans", sans-serif'  class="b">C</text>
<text x="514.00" y="37.60" font-size="8.7" text-anchor="start" font-weight="normal" font-family='"Liberation Sans", sans-serif'  textLength="111.9" lengthAdjust="spacingAndGlyphs">GPR173 Calcium Response</text>
<text transform="translate(463.8,122) rotate(-90)" font-size="9" font-family='"Liberation Sans", sans-serif'>ΔF/F<tspan font-size="6.5" dy="2.6">0</tspan></text>
<line x1="494.50" y1="55.10" x2="516.50" y2="55.10" stroke="#ff2200" stroke-width="2.2" stroke-linecap="butt"/>
<circle cx="505.30" cy="55.10" r="2.2" fill="#ff2200"/>
<line x1="495.00" y1="73.70" x2="517.80" y2="73.70" stroke="#b4b4b4" stroke-width="2.2" stroke-linecap="butt"/>
<path d="M506.00,71.72 L507.80,75.14 L504.20,75.14 Z" fill="#b4b4b4"/>
<text transform="translate(527.90,57.70) scale(0.97,1.0)" font-size="9.3" text-anchor="start" font-weight="normal" font-family='"Liberation Sans", sans-serif' >CCK8s</text>
<text transform="translate(532.20,76.50) scale(0.97,1.0)" font-size="9.3" text-anchor="start" font-weight="normal" font-family='"Liberation Sans", sans-serif' >MF-8</text>
<line x1="496.10" y1="178.00" x2="663.20" y2="177.80" stroke="#b4b4b4" stroke-width="2.2" stroke-linecap="butt"/>
<line x1="596.36" y1="175.00" x2="596.36" y2="179.00" stroke="#b4b4b4" stroke-width="1" stroke-linecap="butt"/>
<line x1="594.16" y1="175.00" x2="598.56" y2="175.00" stroke="#b4b4b4" stroke-width="1" stroke-linecap="butt"/>
<line x1="594.16" y1="179.00" x2="598.56" y2="179.00" stroke="#b4b4b4" stroke-width="1" stroke-linecap="butt"/>
<path d="M496.10,176.35 L497.60,179.20 L494.60,179.20 Z" fill="#b4b4b4"/>
<path d="M512.81,176.35 L514.31,179.20 L511.31,179.20 Z" fill="#b4b4b4"/>
<path d="M529.52,176.35 L531.02,179.20 L528.02,179.20 Z" fill="#b4b4b4"/>
<path d="M546.23,176.35 L547.73,179.20 L544.73,179.20 Z" fill="#b4b4b4"/>
<path d="M562.94,176.35 L564.44,179.20 L561.44,179.20 Z" fill="#b4b4b4"/>
<path d="M579.65,176.35 L581.15,179.20 L578.15,179.20 Z" fill="#b4b4b4"/>
<path d="M596.36,176.35 L597.86,179.20 L594.86,179.20 Z" fill="#b4b4b4"/>
<path d="M613.07,176.35 L614.57,179.20 L611.57,179.20 Z" fill="#b4b4b4"/>
<path d="M629.78,176.35 L631.28,179.20 L628.28,179.20 Z" fill="#b4b4b4"/>
<path d="M646.49,176.35 L647.99,179.20 L644.99,179.20 Z" fill="#b4b4b4"/>
<path d="M663.20,176.35 L664.70,179.20 L661.70,179.20 Z" fill="#b4b4b4"/>
<line x1="579.65" y1="165.60" x2="579.65" y2="172.50" stroke="#ff5a3c" stroke-width="1" stroke-linecap="butt"/>
<line x1="577.45" y1="165.60" x2="581.85" y2="165.60" stroke="#ff5a3c" stroke-width="1" stroke-linecap="butt"/>
<line x1="577.45" y1="172.50" x2="581.85" y2="172.50" stroke="#ff5a3c" stroke-width="1" stroke-linecap="butt"/>
<line x1="596.36" y1="149.70" x2="596.36" y2="167.00" stroke="#ff5a3c" stroke-width="1" stroke-linecap="butt"/>
<line x1="594.16" y1="149.70" x2="598.56" y2="149.70" stroke="#ff5a3c" stroke-width="1" stroke-linecap="butt"/>
<line x1="594.16" y1="167.00" x2="598.56" y2="167.00" stroke="#ff5a3c" stroke-width="1" stroke-linecap="butt"/>
<line x1="613.07" y1="130.30" x2="613.07" y2="141.10" stroke="#ff5a3c" stroke-width="1" stroke-linecap="butt"/>
<line x1="610.87" y1="130.30" x2="615.27" y2="130.30" stroke="#ff5a3c" stroke-width="1" stroke-linecap="butt"/>
<line x1="610.87" y1="141.10" x2="615.27" y2="141.10" stroke="#ff5a3c" stroke-width="1" stroke-linecap="butt"/>
<line x1="646.49" y1="88.10" x2="646.49" y2="96.10" stroke="#ff5a3c" stroke-width="1" stroke-linecap="butt"/>
<line x1="644.29" y1="88.10" x2="648.69" y2="88.10" stroke="#ff5a3c" stroke-width="1" stroke-linecap="butt"/>
<line x1="644.29" y1="96.10" x2="648.69" y2="96.10" stroke="#ff5a3c" stroke-width="1" stroke-linecap="butt"/>
<line x1="663.20" y1="83.10" x2="663.20" y2="92.00" stroke="#ff5a3c" stroke-width="1" stroke-linecap="butt"/>
<line x1="661.00" y1="83.10" x2="665.40" y2="83.10" stroke="#ff5a3c" stroke-width="1" stroke-linecap="butt"/>
<line x1="661.00" y1="92.00" x2="665.40" y2="92.00" stroke="#ff5a3c" stroke-width="1" stroke-linecap="butt"/>
<polyline points="496.10,176.33 497.49,176.33 498.88,176.33 500.28,176.33 501.67,176.33 503.06,176.33 504.46,176.33 505.85,176.33 507.24,176.33 508.63,176.33 510.03,176.33 511.42,176.33 512.81,176.33 514.20,176.33 515.60,176.33 516.99,176.33 518.38,176.32 519.77,176.32 521.16,176.32 522.56,176.32 523.95,176.32 525.34,176.32 526.74,176.32 528.13,176.32 529.52,176.32 530.91,176.32 532.31,176.31 533.70,176.31 535.09,176.31 536.48,176.30 537.88,176.30 539.27,176.30 540.66,176.29 542.05,176.29 543.45,176.28 544.84,176.27 546.23,176.26 547.62,176.25 549.01,176.24 550.41,176.22 551.80,176.21 553.19,176.19 554.59,176.17 555.98,176.14 557.37,176.11 558.76,176.08 560.16,176.03 561.55,175.99 562.94,175.93 564.33,175.87 565.73,175.80 567.12,175.71 568.51,175.61 569.90,175.50 571.30,175.36 572.69,175.21 574.08,175.03 575.47,174.83 576.87,174.59 578.26,174.32 579.65,174.00 581.04,173.64 582.44,173.22 583.83,172.74 585.22,172.19 586.61,171.56 588.01,170.85 589.40,170.03 590.79,169.10 592.18,168.04 593.58,166.86 594.97,165.52 596.36,164.03 597.75,162.37 599.15,160.53 600.54,158.51 601.93,156.31 603.32,153.93 604.72,151.37 606.11,148.64 607.50,145.77 608.89,142.77 610.29,139.67 611.68,136.51 613.07,133.31 614.46,130.11 615.86,126.95 617.25,123.86 618.64,120.87 620.03,118.01 621.43,115.30 622.82,112.75 624.21,110.39 625.60,108.20 627.00,106.20 628.39,104.38 629.78,102.73 631.17,101.26 632.57,99.93 633.96,98.76 635.35,97.72 636.74,96.80 638.13,95.99 639.53,95.28 640.92,94.66 642.31,94.11 643.71,93.64 645.10,93.23 646.49,92.87 647.88,92.56 649.28,92.29 650.67,92.05 652.06,91.85 653.45,91.68 654.85,91.53 656.24,91.39 657.63,91.28 659.02,91.18 660.42,91.10 661.81,91.03 663.20,90.97" fill="none" stroke="#ff2200" stroke-width="2.2" stroke-linejoin="round"/>
<circle cx="496.10" cy="177.30" r="2.1" fill="#ff2200"/>
<circle cx="512.81" cy="177.60" r="2.1" fill="#ff2200"/>
<circle cx="529.52" cy="178.40" r="2.1" fill="#ff2200"/>
<circle cx="546.23" cy="175.70" r="2.1" fill="#ff2200"/>
<circle cx="562.94" cy="179.20" r="2.1" fill="#ff2200"/>
<circle cx="579.65" cy="170.40" r="2.1" fill="#ff2200"/>
<circle cx="596.36" cy="158.40" r="2.1" fill="#ff2200"/>
<circle cx="613.07" cy="135.20" r="2.1" fill="#ff2200"/>
<circle cx="629.78" cy="112.30" r="2.1" fill="#ff2200"/>
<circle cx="646.49" cy="92.00" r="2.1" fill="#ff2200"/>
<circle cx="663.20" cy="87.10" r="2.1" fill="#ff2200"/>
<path d="M35.50,253.10 H43.70 V390.60" fill="none" stroke="#000" stroke-width="2.15"/>
<line x1="43.70" y1="382.60" x2="237.00" y2="382.60" stroke="#000" stroke-width="2.15" stroke-linecap="butt"/>
<line x1="35.50" y1="292.90" x2="43.70" y2="292.90" stroke="#000" stroke-width="2.15" stroke-linecap="butt"/>
<line x1="35.50" y1="332.70" x2="43.70" y2="332.70" stroke="#000" stroke-width="2.15" stroke-linecap="butt"/>
<line x1="35.50" y1="372.50" x2="43.70" y2="372.50" stroke="#000" stroke-width="2.15" stroke-linecap="butt"/>
<line x1="86.84" y1="382.60" x2="86.84" y2="390.60" stroke="#000" stroke-width="2.15" stroke-linecap="butt"/>
<line x1="129.98" y1="382.60" x2="129.98" y2="390.60" stroke="#000" stroke-width="2.15" stroke-linecap="butt"/>
<line x1="173.12" y1="382.60" x2="173.12" y2="390.60" stroke="#000" stroke-width="2.15" stroke-linecap="butt"/>
<line x1="216.26" y1="382.60" x2="216.26" y2="390.60" stroke="#000" stroke-width="2.15" stroke-linecap="butt"/>
<text x="32.40" y="256.10" font-size="9.5" text-anchor="end" font-weight="normal" font-family='"Liberation Sans", sans-serif' >0.06</text>
<text x="32.40" y="295.90" font-size="9.5" text-anchor="end" font-weight="normal" font-family='"Liberation Sans", sans-serif' >0.04</text>
<text x="32.40" y="335.70" font-size="9.5" text-anchor="end" font-weight="normal" font-family='"Liberation Sans", sans-serif' >0.02</text>
<text x="32.40" y="375.50" font-size="9.5" text-anchor="end" font-weight="normal" font-family='"Liberation Sans", sans-serif' >0.00</text>
<text x="43.70" y="402.10" font-size="9.5" text-anchor="middle" font-weight="normal" font-family='"Liberation Sans", sans-serif' >-4</text>
<text x="86.84" y="402.10" font-size="9.5" text-anchor="middle" font-weight="normal" font-family='"Liberation Sans", sans-serif' >-2</text>
<text x="129.98" y="402.10" font-size="9.5" text-anchor="middle" font-weight="normal" font-family='"Liberation Sans", sans-serif' >0</text>
<text x="173.12" y="402.10" font-size="9.5" text-anchor="middle" font-weight="normal" font-family='"Liberation Sans", sans-serif' >2</text>
<text x="216.26" y="402.10" font-size="9.5" text-anchor="middle" font-weight="normal" font-family='"Liberation Sans", sans-serif' >4</text>
<text x="121.00" y="413.80" font-size="9" text-anchor="start" font-weight="normal" font-family='"Liberation Sans", sans-serif' >Log(C)nM</text>
<text x="0.20" y="241.70" font-size="9.8" text-anchor="start" font-weight="bold" font-family='"Liberation Sans", sans-serif'  class="b">D</text>
<text x="103.60" y="240.30" font-size="9" text-anchor="start" font-weight="normal" font-family='"Liberation Sans", sans-serif'  textLength="77.9" lengthAdjust="spacingAndGlyphs">GPR173 β-arrestin1</text>
<text transform="translate(12.6,341.7) rotate(-90)" font-size="9" font-family='"Liberation Sans", sans-serif'>Net BRET</text>
<line x1="51.80" y1="255.80" x2="74.40" y2="255.80" stroke="#8c8c8c" stroke-width="2.2" stroke-linecap="butt"/>
<path d="M63.00,253.49 L65.10,257.48 L60.90,257.48 Z" fill="#8c8c8c"/>
<line x1="51.80" y1="276.10" x2="74.20" y2="276.10" stroke="#0f3cff" stroke-width="2.2" stroke-linecap="butt"/>
<circle cx="63.00" cy="276.10" r="2.0" fill="#0f3cff"/>
<line x1="51.80" y1="295.40" x2="74.20" y2="295.40" stroke="#ff2200" stroke-width="2.2" stroke-linecap="butt"/>
<circle cx="63.00" cy="295.40" r="2.0" fill="#ff2200"/>
<text transform="translate(84.70,259.00) scale(0.97,1.0)" font-size="9.3" text-anchor="start" font-weight="normal" font-family='"Liberation Sans", sans-serif' >MF-8</text>
<text transform="translate(84.70,279.20) scale(0.97,1.0)" font-size="9.3" text-anchor="start" font-weight="normal" font-family='"Liberation Sans", sans-serif' >CCK8s</text>
<text transform="translate(84.70,298.50) scale(0.97,1.0)" font-size="9.3" text-anchor="start" font-weight="normal" font-family='"Liberation Sans", sans-serif' >PNX-14</text>
<line x1="65.27" y1="370.00" x2="65.27" y2="380.40" stroke="#bcbcbc" stroke-width="1" stroke-linecap="butt"/>
<line x1="63.07" y1="370.00" x2="67.47" y2="370.00" stroke="#bcbcbc" stroke-width="1" stroke-linecap="butt"/>
<line x1="63.07" y1="380.40" x2="67.47" y2="380.40" stroke="#bcbcbc" stroke-width="1" stroke-linecap="butt"/>
<line x1="95.47" y1="369.20" x2="95.47" y2="376.80" stroke="#bcbcbc" stroke-width="1" stroke-linecap="butt"/>
<line x1="93.27" y1="369.20" x2="97.67" y2="369.20" stroke="#bcbcbc" stroke-width="1" stroke-linecap="butt"/>
<line x1="93.27" y1="376.80" x2="97.67" y2="376.80" stroke="#bcbcbc" stroke-width="1" stroke-linecap="butt"/>
<line x1="110.57" y1="364.60" x2="110.57" y2="371.80" stroke="#bcbcbc" stroke-width="1" stroke-linecap="butt"/>
<line x1="108.37" y1="364.60" x2="112.77" y2="364.60" stroke="#bcbcbc" stroke-width="1" stroke-linecap="butt"/>
<line x1="108.37" y1="371.80" x2="112.77" y2="371.80" stroke="#bcbcbc" stroke-width="1" stroke-linecap="butt"/>
<line x1="140.76" y1="366.00" x2="140.76" y2="379.00" stroke="#bcbcbc" stroke-width="1" stroke-linecap="butt"/>
<line x1="138.56" y1="366.00" x2="142.96" y2="366.00" stroke="#bcbcbc" stroke-width="1" stroke-linecap="butt"/>
<line x1="138.56" y1="379.00" x2="142.96" y2="379.00" stroke="#bcbcbc" stroke-width="1" stroke-linecap="butt"/>
<line x1="170.96" y1="358.50" x2="170.96" y2="374.70" stroke="#bcbcbc" stroke-width="1" stroke-linecap="butt"/>
<line x1="168.76" y1="358.50" x2="173.16" y2="358.50" stroke="#bcbcbc" stroke-width="1" stroke-linecap="butt"/>
<line x1="168.76" y1="374.70" x2="173.16" y2="374.70" stroke="#bcbcbc" stroke-width="1" stroke-linecap="butt"/>
<line x1="186.06" y1="369.70" x2="186.06" y2="375.00" stroke="#bcbcbc" stroke-width="1" stroke-linecap="butt"/>
<line x1="183.86" y1="369.70" x2="188.26" y2="369.70" stroke="#bcbcbc" stroke-width="1" stroke-linecap="butt"/>
<line x1="183.86" y1="375.00" x2="188.26" y2="375.00" stroke="#bcbcbc" stroke-width="1" stroke-linecap="butt"/>
<line x1="201.16" y1="370.40" x2="201.16" y2="382.30" stroke="#bcbcbc" stroke-width="1" stroke-linecap="butt"/>
<line x1="198.96" y1="370.40" x2="203.36" y2="370.40" stroke="#bcbcbc" stroke-width="1" stroke-linecap="butt"/>
<line x1="198.96" y1="382.30" x2="203.36" y2="382.30" stroke="#bcbcbc" stroke-width="1" stroke-linecap="butt"/>
<line x1="216.26" y1="373.20" x2="216.26" y2="382.00" stroke="#bcbcbc" stroke-width="1" stroke-linecap="butt"/>
<line x1="214.06" y1="373.20" x2="218.46" y2="373.20" stroke="#bcbcbc" stroke-width="1" stroke-linecap="butt"/>
<line x1="214.06" y1="382.00" x2="218.46" y2="382.00" stroke="#bcbcbc" stroke-width="1" stroke-linecap="butt"/>
<line x1="65.27" y1="372.80" x2="216.26" y2="374.30" stroke="#8c8c8c" stroke-width="2.2" stroke-linecap="butt"/>
<path d="M65.27,371.58 L67.47,375.76 L63.07,375.76 Z" fill="#8c8c8c"/>
<path d="M80.37,370.78 L82.57,374.96 L78.17,374.96 Z" fill="#8c8c8c"/>
<path d="M95.47,370.78 L97.67,374.96 L93.27,374.96 Z" fill="#8c8c8c"/>
<path d="M110.57,366.48 L112.77,370.66 L108.37,370.66 Z" fill="#8c8c8c"/>
<path d="M125.67,377.28 L127.87,381.46 L123.47,381.46 Z" fill="#8c8c8c"/>
<path d="M140.76,370.78 L142.96,374.96 L138.56,374.96 Z" fill="#8c8c8c"/>
<path d="M155.86,370.08 L158.06,374.26 L153.66,374.26 Z" fill="#8c8c8c"/>
<path d="M170.96,364.68 L173.16,368.86 L168.76,368.86 Z" fill="#8c8c8c"/>
<path d="M186.06,370.08 L188.26,374.26 L183.86,374.26 Z" fill="#8c8c8c"/>
<path d="M201.16,373.78 L203.36,377.96 L198.96,377.96 Z" fill="#8c8c8c"/>
<path d="M216.26,377.68 L218.46,381.86 L214.06,381.86 Z" fill="#8c8c8c"/>
<line x1="65.27" y1="368.90" x2="65.27" y2="377.60" stroke="#8aa0ff" stroke-width="1" stroke-linecap="butt"/>
<line x1="63.07" y1="368.90" x2="67.47" y2="368.90" stroke="#8aa0ff" stroke-width="1" stroke-linecap="butt"/>
<line x1="63.07" y1="377.60" x2="67.47" y2="377.60" stroke="#8aa0ff" stroke-width="1" stroke-linecap="butt"/>
<line x1="80.37" y1="364.00" x2="80.37" y2="370.00" stroke="#8aa0ff" stroke-width="1" stroke-linecap="butt"/>
<line x1="78.17" y1="364.00" x2="82.57" y2="364.00" stroke="#8aa0ff" stroke-width="1" stroke-linecap="butt"/>
<line x1="78.17" y1="370.00" x2="82.57" y2="370.00" stroke="#8aa0ff" stroke-width="1" stroke-linecap="butt"/>
<line x1="95.47" y1="356.00" x2="95.47" y2="362.00" stroke="#8aa0ff" stroke-width="1" stroke-linecap="butt"/>
<line x1="93.27" y1="356.00" x2="97.67" y2="356.00" stroke="#8aa0ff" stroke-width="1" stroke-linecap="butt"/>
<line x1="93.27" y1="362.00" x2="97.67" y2="362.00" stroke="#8aa0ff" stroke-width="1" stroke-linecap="butt"/>
<line x1="110.57" y1="356.70" x2="110.57" y2="368.90" stroke="#8aa0ff" stroke-width="1" stroke-linecap="butt"/>
<line x1="108.37" y1="356.70" x2="112.77" y2="356.70" stroke="#8aa0ff" stroke-width="1" stroke-linecap="butt"/>
<line x1="108.37" y1="368.90" x2="112.77" y2="368.90" stroke="#8aa0ff" stroke-width="1" stroke-linecap="butt"/>
<line x1="125.67" y1="348.00" x2="125.67" y2="359.50" stroke="#8aa0ff" stroke-width="1" stroke-linecap="butt"/>
<line x1="123.47" y1="348.00" x2="127.87" y2="348.00" stroke="#8aa0ff" stroke-width="1" stroke-linecap="butt"/>
<line x1="123.47" y1="359.50" x2="127.87" y2="359.50" stroke="#8aa0ff" stroke-width="1" stroke-linecap="butt"/>
<line x1="140.76" y1="337.90" x2="140.76" y2="349.40" stroke="#8aa0ff" stroke-width="1" stroke-linecap="butt"/>
<line x1="138.56" y1="337.90" x2="142.96" y2="337.90" stroke="#8aa0ff" stroke-width="1" stroke-linecap="butt"/>
<line x1="138.56" y1="349.40" x2="142.96" y2="349.40" stroke="#8aa0ff" stroke-width="1" stroke-linecap="butt"/>
<line x1="170.96" y1="329.00" x2="170.96" y2="351.30" stroke="#8aa0ff" stroke-width="1" stroke-linecap="butt"/>
<line x1="168.76" y1="329.00" x2="173.16" y2="329.00" stroke="#8aa0ff" stroke-width="1" stroke-linecap="butt"/>
<line x1="168.76" y1="351.30" x2="173.16" y2="351.30" stroke="#8aa0ff" stroke-width="1" stroke-linecap="butt"/>
<line x1="186.06" y1="330.00" x2="186.06" y2="345.90" stroke="#8aa0ff" stroke-width="1" stroke-linecap="butt"/>
<line x1="183.86" y1="330.00" x2="188.26" y2="330.00" stroke="#8aa0ff" stroke-width="1" stroke-linecap="butt"/>
<line x1="183.86" y1="345.90" x2="188.26" y2="345.90" stroke="#8aa0ff" stroke-width="1" stroke-linecap="butt"/>
<line x1="201.16" y1="314.70" x2="201.16" y2="333.00" stroke="#8aa0ff" stroke-width="1" stroke-linecap="butt"/>
<line x1="198.96" y1="314.70" x2="203.36" y2="314.70" stroke="#8aa0ff" stroke-width="1" stroke-linecap="butt"/>
<line x1="198.96" y1="333.00" x2="203.36" y2="333.00" stroke="#8aa0ff" stroke-width="1" stroke-linecap="butt"/>
<line x1="216.26" y1="339.00" x2="216.26" y2="349.40" stroke="#8aa0ff" stroke-width="1" stroke-linecap="butt"/>
<line x1="214.06" y1="339.00" x2="218.46" y2="339.00" stroke="#8aa0ff" stroke-width="1" stroke-linecap="butt"/>
<line x1="214.06" y1="349.40" x2="218.46" y2="349.40" stroke="#8aa0ff" stroke-width="1" stroke-linecap="butt"/>
<polyline points="65.27,366.72 66.53,366.72 67.79,366.72 69.04,366.71 70.30,366.71 71.56,366.71 72.82,366.70 74.08,366.70 75.34,366.69 76.59,366.69 77.85,366.68 79.11,366.67 80.37,366.66 81.63,366.65 82.89,366.63 84.14,366.62 85.40,366.60 86.66,366.57 87.92,366.55 89.18,366.52 90.44,366.48 91.69,366.44 92.95,366.39 94.21,366.33 95.47,366.26 96.73,366.18 97.98,366.08 99.24,365.97 100.50,365.84 101.76,365.69 103.02,365.52 104.28,365.32 105.53,365.09 106.79,364.82 108.05,364.52 109.31,364.16 110.57,363.76 111.83,363.31 113.08,362.79 114.34,362.22 115.60,361.58 116.86,360.86 118.12,360.08 119.37,359.23 120.63,358.32 121.89,357.34 123.15,356.31 124.41,355.24 125.67,354.14 126.92,353.02 128.18,351.90 129.44,350.79 130.70,349.71 131.96,348.66 133.22,347.66 134.47,346.72 135.73,345.85 136.99,345.04 138.25,344.30 139.51,343.63 140.76,343.03 142.02,342.49 143.28,342.01 144.54,341.59 145.80,341.22 147.06,340.89 148.31,340.61 149.57,340.37 150.83,340.15 152.09,339.97 153.35,339.81 154.61,339.67 155.86,339.56 157.12,339.46 158.38,339.37 159.64,339.30 160.90,339.23 162.16,339.18 163.41,339.13 164.67,339.10 165.93,339.06 167.19,339.03 168.45,339.01 169.70,338.99 170.96,338.97 172.22,338.96 173.48,338.94 174.74,338.93 176.00,338.92 177.25,338.91 178.51,338.91 179.77,338.90 181.03,338.90 182.29,338.89 183.55,338.89 184.80,338.89 186.06,338.88 187.32,338.88 188.58,338.88 189.84,338.88 191.09,338.88 192.35,338.88 193.61,338.87 194.87,338.87 196.13,338.87 197.39,338.87 198.64,338.87 199.90,338.87 201.16,338.87 202.42,338.87 203.68,338.87 204.94,338.87 206.19,338.87 207.45,338.87 208.71,338.87 209.97,338.87 211.23,338.87 212.49,338.87 213.74,338.87 215.00,338.87 216.26,338.87" fill="none" stroke="#0f3cff" stroke-width="2.2" stroke-linejoin="round"/>
<circle cx="65.27" cy="371.10" r="2.1" fill="#0f3cff"/>
<circle cx="80.37" cy="367.80" r="2.1" fill="#0f3cff"/>
<circle cx="95.47" cy="358.80" r="2.1" fill="#0f3cff"/>
<circle cx="110.57" cy="363.10" r="2.1" fill="#0f3cff"/>
<circle cx="125.67" cy="353.80" r="2.1" fill="#0f3cff"/>
<circle cx="140.76" cy="343.30" r="2.1" fill="#0f3cff"/>
<circle cx="155.86" cy="347.20" r="2.1" fill="#0f3cff"/>
<circle cx="170.96" cy="340.10" r="2.1" fill="#0f3cff"/>
<circle cx="186.06" cy="337.90" r="2.1" fill="#0f3cff"/>
<circle cx="201.16" cy="327.10" r="2.1" fill="#0f3cff"/>
<circle cx="216.26" cy="344.40" r="2.1" fill="#0f3cff"/>
<line x1="65.27" y1="364.60" x2="65.27" y2="370.00" stroke="#ff8070" stroke-width="1" stroke-linecap="butt"/>
<line x1="63.07" y1="364.60" x2="67.47" y2="364.60" stroke="#ff8070" stroke-width="1" stroke-linecap="butt"/>
<line x1="63.07" y1="370.00" x2="67.47" y2="370.00" stroke="#ff8070" stroke-width="1" stroke-linecap="butt"/>
<line x1="80.37" y1="360.50" x2="80.37" y2="382.60" stroke="#ff8070" stroke-width="1" stroke-linecap="butt"/>
<line x1="78.17" y1="360.50" x2="82.57" y2="360.50" stroke="#ff8070" stroke-width="1" stroke-linecap="butt"/>
<line x1="78.17" y1="382.60" x2="82.57" y2="382.60" stroke="#ff8070" stroke-width="1" stroke-linecap="butt"/>
<line x1="95.47" y1="351.90" x2="95.47" y2="364.60" stroke="#ff8070" stroke-width="1" stroke-linecap="butt"/>
<line x1="93.27" y1="351.90" x2="97.67" y2="351.90" stroke="#ff8070" stroke-width="1" stroke-linecap="butt"/>
<line x1="93.27" y1="364.60" x2="97.67" y2="364.60" stroke="#ff8070" stroke-width="1" stroke-linecap="butt"/>
<line x1="110.57" y1="351.60" x2="110.57" y2="357.40" stroke="#ff8070" stroke-width="1" stroke-linecap="butt"/>
<line x1="108.37" y1="351.60" x2="112.77" y2="351.60" stroke="#ff8070" stroke-width="1" stroke-linecap="butt"/>
<line x1="108.37" y1="357.40" x2="112.77" y2="357.40" stroke="#ff8070" stroke-width="1" stroke-linecap="butt"/>
<line x1="125.67" y1="337.90" x2="125.67" y2="350.90" stroke="#ff8070" stroke-width="1" stroke-linecap="butt"/>
<line x1="123.47" y1="337.90" x2="127.87" y2="337.90" stroke="#ff8070" stroke-width="1" stroke-linecap="butt"/>
<line x1="123.47" y1="350.90" x2="127.87" y2="350.90" stroke="#ff8070" stroke-width="1" stroke-linecap="butt"/>
<line x1="140.76" y1="329.20" x2="140.76" y2="336.80" stroke="#ff8070" stroke-width="1" stroke-linecap="butt"/>
<line x1="138.56" y1="329.20" x2="142.96" y2="329.20" stroke="#ff8070" stroke-width="1" stroke-linecap="butt"/>
<line x1="138.56" y1="336.80" x2="142.96" y2="336.80" stroke="#ff8070" stroke-width="1" stroke-linecap="butt"/>
<line x1="155.86" y1="319.50" x2="155.86" y2="335.30" stroke="#ff8070" stroke-width="1" stroke-linecap="butt"/>
<line x1="153.66" y1="319.50" x2="158.06" y2="319.50" stroke="#ff8070" stroke-width="1" stroke-linecap="butt"/>
<line x1="153.66" y1="335.30" x2="158.06" y2="335.30" stroke="#ff8070" stroke-width="1" stroke-linecap="butt"/>
<line x1="170.96" y1="328.60" x2="170.96" y2="340.00" stroke="#ff8070" stroke-width="1" stroke-linecap="butt"/>
<line x1="168.76" y1="328.60" x2="173.16" y2="328.60" stroke="#ff8070" stroke-width="1" stroke-linecap="butt"/>
<line x1="168.76" y1="340.00" x2="173.16" y2="340.00" stroke="#ff8070" stroke-width="1" stroke-linecap="butt"/>
<line x1="186.06" y1="314.70" x2="186.06" y2="336.20" stroke="#ff8070" stroke-width="1" stroke-linecap="butt"/>
<line x1="183.86" y1="314.70" x2="188.26" y2="314.70" stroke="#ff8070" stroke-width="1" stroke-linecap="butt"/>
<line x1="183.86" y1="336.20" x2="188.26" y2="336.20" stroke="#ff8070" stroke-width="1" stroke-linecap="butt"/>
<line x1="201.16" y1="319.00" x2="201.16" y2="333.60" stroke="#ff8070" stroke-width="1" stroke-linecap="butt"/>
<line x1="198.96" y1="319.00" x2="203.36" y2="319.00" stroke="#ff8070" stroke-width="1" stroke-linecap="butt"/>
<line x1="198.96" y1="333.60" x2="203.36" y2="333.60" stroke="#ff8070" stroke-width="1" stroke-linecap="butt"/>
<line x1="216.26" y1="330.30" x2="216.26" y2="340.70" stroke="#ff8070" stroke-width="1" stroke-linecap="butt"/>
<line x1="214.06" y1="330.30" x2="218.46" y2="330.30" stroke="#ff8070" stroke-width="1" stroke-linecap="butt"/>
<line x1="214.06" y1="340.70" x2="218.46" y2="340.70" stroke="#ff8070" stroke-width="1" stroke-linecap="butt"/>
<polyline points="65.27,366.81 66.53,366.79 67.79,366.78 69.04,366.75 70.30,366.73 71.56,366.70 72.82,366.67 74.08,366.63 75.34,366.59 76.59,366.54 77.85,366.48 79.11,366.42 80.37,366.35 81.63,366.27 82.89,366.18 84.14,366.07 85.40,365.95 86.66,365.81 87.92,365.66 89.18,365.48 90.44,365.29 91.69,365.06 92.95,364.81 94.21,364.52 95.47,364.20 96.73,363.85 97.98,363.44 99.24,363.00 100.50,362.50 101.76,361.95 103.02,361.34 104.28,360.67 105.53,359.94 106.79,359.15 108.05,358.29 109.31,357.37 110.57,356.39 111.83,355.35 113.08,354.25 114.34,353.11 115.60,351.93 116.86,350.72 118.12,349.49 119.37,348.24 120.63,347.00 121.89,345.78 123.15,344.57 124.41,343.40 125.67,342.27 126.92,341.19 128.18,340.17 129.44,339.20 130.70,338.30 131.96,337.46 133.22,336.68 134.47,335.97 135.73,335.32 136.99,334.73 138.25,334.20 139.51,333.71 140.76,333.28 142.02,332.89 143.28,332.54 144.54,332.23 145.80,331.96 147.06,331.71 148.31,331.50 149.57,331.31 150.83,331.14 152.09,330.99 153.35,330.86 154.61,330.74 155.86,330.64 157.12,330.55 158.38,330.47 159.64,330.40 160.90,330.34 162.16,330.29 163.41,330.24 164.67,330.20 165.93,330.16 167.19,330.13 168.45,330.11 169.70,330.08 170.96,330.06 172.22,330.04 173.48,330.03 174.74,330.01 176.00,330.00 177.25,329.99 178.51,329.98 179.77,329.97 181.03,329.96 182.29,329.96 183.55,329.95 184.80,329.95 186.06,329.94 187.32,329.94 188.58,329.94 189.84,329.93 191.09,329.93 192.35,329.93 193.61,329.93 194.87,329.93 196.13,329.92 197.39,329.92 198.64,329.92 199.90,329.92 201.16,329.92 202.42,329.92 203.68,329.92 204.94,329.92 206.19,329.92 207.45,329.92 208.71,329.92 209.97,329.92 211.23,329.92 212.49,329.92 213.74,329.92 215.00,329.92 216.26,329.92" fill="none" stroke="#ff2200" stroke-width="2.2" stroke-linejoin="round"/>
<circle cx="65.27" cy="366.70" r="2.1" fill="#ff2200"/>
<circle cx="80.37" cy="371.50" r="2.1" fill="#ff2200"/>
<circle cx="95.47" cy="359.50" r="2.1" fill="#ff2200"/>
<circle cx="110.57" cy="354.50" r="2.1" fill="#ff2200"/>
<circle cx="125.67" cy="344.00" r="2.1" fill="#ff2200"/>
<circle cx="140.76" cy="333.60" r="2.1" fill="#ff2200"/>
<circle cx="155.86" cy="327.70" r="2.1" fill="#ff2200"/>
<circle cx="170.96" cy="334.60" r="2.1" fill="#ff2200"/>
<circle cx="186.06" cy="325.60" r="2.1" fill="#ff2200"/>
<circle cx="201.16" cy="326.60" r="2.1" fill="#ff2200"/>
<circle cx="216.26" cy="335.70" r="2.1" fill="#ff2200"/>
<path d="M271.40,254.65 H279.60 V391.20" fill="none" stroke="#000" stroke-width="2.15"/>
<line x1="279.60" y1="383.20" x2="473.30" y2="383.20" stroke="#000" stroke-width="2.15" stroke-linecap="butt"/>
<line x1="271.40" y1="297.50" x2="279.60" y2="297.50" stroke="#000" stroke-width="2.15" stroke-linecap="butt"/>
<line x1="271.40" y1="340.35" x2="279.60" y2="340.35" stroke="#000" stroke-width="2.15" stroke-linecap="butt"/>
<line x1="271.40" y1="383.20" x2="279.60" y2="383.20" stroke="#000" stroke-width="2.15" stroke-linecap="butt"/>
<line x1="322.80" y1="383.20" x2="322.80" y2="391.20" stroke="#000" stroke-width="2.15" stroke-linecap="butt"/>
<line x1="366.00" y1="383.20" x2="366.00" y2="391.20" stroke="#000" stroke-width="2.15" stroke-linecap="butt"/>
<line x1="409.20" y1="383.20" x2="409.20" y2="391.20" stroke="#000" stroke-width="2.15" stroke-linecap="butt"/>
<line x1="452.40" y1="383.20" x2="452.40" y2="391.20" stroke="#000" stroke-width="2.15" stroke-linecap="butt"/>
<text x="268.90" y="257.65" font-size="9.5" text-anchor="end" font-weight="normal" font-family='"Liberation Sans", sans-serif' >0.15</text>
<text x="268.90" y="300.50" font-size="9.5" text-anchor="end" font-weight="normal" font-family='"Liberation Sans", sans-serif' >0.10</text>
<text x="268.90" y="343.35" font-size="9.5" text-anchor="end" font-weight="normal" font-family='"Liberation Sans", sans-serif' >0.05</text>
<text x="268.90" y="386.20" font-size="9.5" text-anchor="end" font-weight="normal" font-family='"Liberation Sans", sans-serif' >0.00</text>
<text x="279.60" y="403.20" font-size="9.5" text-anchor="middle" font-weight="normal" font-family='"Liberation Sans", sans-serif' >-4</text>
<text x="322.80" y="403.20" font-size="9.5" text-anchor="middle" font-weight="normal" font-family='"Liberation Sans", sans-serif' >-2</text>
<text x="366.00" y="403.20" font-size="9.5" text-anchor="middle" font-weight="normal" font-family='"Liberation Sans", sans-serif' >0</text>
<text x="409.20" y="403.20" font-size="9.5" text-anchor="middle" font-weight="normal" font-family='"Liberation Sans", sans-serif' >2</text>
<text x="452.40" y="403.20" font-size="9.5" text-anchor="middle" font-weight="normal" font-family='"Liberation Sans", sans-serif' >4</text>
<text x="356.50" y="414.00" font-size="9" text-anchor="start" font-weight="normal" font-family='"Liberation Sans", sans-serif' >Log(C)nM</text>
<text x="286.60" y="241.80" font-size="9.8" text-anchor="start" font-weight="bold" font-family='"Liberation Sans", sans-serif'  class="b">E</text>
<text x="338.90" y="243.10" font-size="8.6" text-anchor="start" font-weight="normal" font-family='"Liberation Sans", sans-serif'  textLength="76.1" lengthAdjust="spacingAndGlyphs">GPR<tspan font-family='"Liberation Serif", serif'>173 β</tspan>-arrestin<tspan font-family='"Liberation Serif", serif'>2</tspan></text>
<text transform="translate(248.8,337.5) rotate(-90)" font-size="9" font-family='"Liberation Sans", sans-serif'>Net BRET</text>
<line x1="292.00" y1="266.70" x2="314.30" y2="266.70" stroke="#8c8c8c" stroke-width="2.2" stroke-linecap="butt"/>
<path d="M303.40,264.39 L305.50,268.38 L301.30,268.38 Z" fill="#8c8c8c"/>
<line x1="292.00" y1="287.00" x2="314.30" y2="287.00" stroke="#0f3cff" stroke-width="2.2" stroke-linecap="butt"/>
<circle cx="303.40" cy="287.00" r="2.0" fill="#0f3cff"/>
<line x1="292.00" y1="306.00" x2="314.30" y2="306.00" stroke="#ff2200" stroke-width="2.2" stroke-linecap="butt"/>
<circle cx="303.40" cy="306.00" r="2.0" fill="#ff2200"/>
<text transform="translate(325.60,269.10) scale(0.97,1.0)" font-size="9.3" text-anchor="start" font-weight="normal" font-family='"Liberation Sans", sans-serif' >MF-8</text>
<text transform="translate(325.40,289.80) scale(0.97,1.0)" font-size="9.3" text-anchor="start" font-weight="normal" font-family='"Liberation Sans", sans-serif' >CCK8s</text>
<text transform="translate(325.40,308.90) scale(0.97,1.0)" font-size="9.3" text-anchor="start" font-weight="normal" font-family='"Liberation Sans", sans-serif' >PNX-14</text>
<line x1="301.20" y1="373.00" x2="301.20" y2="379.00" stroke="#bcbcbc" stroke-width="1" stroke-linecap="butt"/>
<line x1="299.00" y1="373.00" x2="303.40" y2="373.00" stroke="#bcbcbc" stroke-width="1" stroke-linecap="butt"/>
<line x1="299.00" y1="379.00" x2="303.40" y2="379.00" stroke="#bcbcbc" stroke-width="1" stroke-linecap="butt"/>
<line x1="316.32" y1="374.00" x2="316.32" y2="380.00" stroke="#bcbcbc" stroke-width="1" stroke-linecap="butt"/>
<line x1="314.12" y1="374.00" x2="318.52" y2="374.00" stroke="#bcbcbc" stroke-width="1" stroke-linecap="butt"/>
<line x1="314.12" y1="380.00" x2="318.52" y2="380.00" stroke="#bcbcbc" stroke-width="1" stroke-linecap="butt"/>
<line x1="331.44" y1="374.00" x2="331.44" y2="382.00" stroke="#bcbcbc" stroke-width="1" stroke-linecap="butt"/>
<line x1="329.24" y1="374.00" x2="333.64" y2="374.00" stroke="#bcbcbc" stroke-width="1" stroke-linecap="butt"/>
<line x1="329.24" y1="382.00" x2="333.64" y2="382.00" stroke="#bcbcbc" stroke-width="1" stroke-linecap="butt"/>
<line x1="346.56" y1="375.00" x2="346.56" y2="381.00" stroke="#bcbcbc" stroke-width="1" stroke-linecap="butt"/>
<line x1="344.36" y1="375.00" x2="348.76" y2="375.00" stroke="#bcbcbc" stroke-width="1" stroke-linecap="butt"/>
<line x1="344.36" y1="381.00" x2="348.76" y2="381.00" stroke="#bcbcbc" stroke-width="1" stroke-linecap="butt"/>
<line x1="361.68" y1="373.00" x2="361.68" y2="382.00" stroke="#bcbcbc" stroke-width="1" stroke-linecap="butt"/>
<line x1="359.48" y1="373.00" x2="363.88" y2="373.00" stroke="#bcbcbc" stroke-width="1" stroke-linecap="butt"/>
<line x1="359.48" y1="382.00" x2="363.88" y2="382.00" stroke="#bcbcbc" stroke-width="1" stroke-linecap="butt"/>
<line x1="376.80" y1="367.10" x2="376.80" y2="376.20" stroke="#bcbcbc" stroke-width="1" stroke-linecap="butt"/>
<line x1="374.60" y1="367.10" x2="379.00" y2="367.10" stroke="#bcbcbc" stroke-width="1" stroke-linecap="butt"/>
<line x1="374.60" y1="376.20" x2="379.00" y2="376.20" stroke="#bcbcbc" stroke-width="1" stroke-linecap="butt"/>
<line x1="391.92" y1="363.90" x2="391.92" y2="382.30" stroke="#bcbcbc" stroke-width="1" stroke-linecap="butt"/>
<line x1="389.72" y1="363.90" x2="394.12" y2="363.90" stroke="#bcbcbc" stroke-width="1" stroke-linecap="butt"/>
<line x1="389.72" y1="382.30" x2="394.12" y2="382.30" stroke="#bcbcbc" stroke-width="1" stroke-linecap="butt"/>
<line x1="407.04" y1="373.60" x2="407.04" y2="382.00" stroke="#bcbcbc" stroke-width="1" stroke-linecap="butt"/>
<line x1="404.84" y1="373.60" x2="409.24" y2="373.60" stroke="#bcbcbc" stroke-width="1" stroke-linecap="butt"/>
<line x1="404.84" y1="382.00" x2="409.24" y2="382.00" stroke="#bcbcbc" stroke-width="1" stroke-linecap="butt"/>
<line x1="422.16" y1="370.40" x2="422.16" y2="380.60" stroke="#bcbcbc" stroke-width="1" stroke-linecap="butt"/>
<line x1="419.96" y1="370.40" x2="424.36" y2="370.40" stroke="#bcbcbc" stroke-width="1" stroke-linecap="butt"/>
<line x1="419.96" y1="380.60" x2="424.36" y2="380.60" stroke="#bcbcbc" stroke-width="1" stroke-linecap="butt"/>
<line x1="437.28" y1="371.50" x2="437.28" y2="382.00" stroke="#bcbcbc" stroke-width="1" stroke-linecap="butt"/>
<line x1="435.08" y1="371.50" x2="439.48" y2="371.50" stroke="#bcbcbc" stroke-width="1" stroke-linecap="butt"/>
<line x1="435.08" y1="382.00" x2="439.48" y2="382.00" stroke="#bcbcbc" stroke-width="1" stroke-linecap="butt"/>
<line x1="452.40" y1="373.60" x2="452.40" y2="382.00" stroke="#bcbcbc" stroke-width="1" stroke-linecap="butt"/>
<line x1="450.20" y1="373.60" x2="454.60" y2="373.60" stroke="#bcbcbc" stroke-width="1" stroke-linecap="butt"/>
<line x1="450.20" y1="382.00" x2="454.60" y2="382.00" stroke="#bcbcbc" stroke-width="1" stroke-linecap="butt"/>
<line x1="301.20" y1="376.80" x2="452.40" y2="376.90" stroke="#8c8c8c" stroke-width="2.2" stroke-linecap="butt"/>
<path d="M301.20,373.58 L303.40,377.76 L299.00,377.76 Z" fill="#8c8c8c"/>
<path d="M316.32,374.58 L318.52,378.76 L314.12,378.76 Z" fill="#8c8c8c"/>
<path d="M331.44,377.28 L333.64,381.46 L329.24,381.46 Z" fill="#8c8c8c"/>
<path d="M346.56,377.08 L348.76,381.26 L344.36,381.26 Z" fill="#8c8c8c"/>
<path d="M361.68,376.58 L363.88,380.76 L359.48,380.76 Z" fill="#8c8c8c"/>
<path d="M376.80,369.08 L379.00,373.26 L374.60,373.26 Z" fill="#8c8c8c"/>
<path d="M391.92,370.78 L394.12,374.96 L389.72,374.96 Z" fill="#8c8c8c"/>
<path d="M407.04,377.68 L409.24,381.86 L404.84,381.86 Z" fill="#8c8c8c"/>
<path d="M422.16,373.78 L424.36,377.96 L419.96,377.96 Z" fill="#8c8c8c"/>
<path d="M437.28,375.98 L439.48,380.16 L435.08,380.16 Z" fill="#8c8c8c"/>
<path d="M452.40,378.18 L454.60,382.36 L450.20,382.36 Z" fill="#8c8c8c"/>
<line x1="301.20" y1="372.00" x2="301.20" y2="377.00" stroke="#8aa0ff" stroke-width="1" stroke-linecap="butt"/>
<line x1="299.00" y1="372.00" x2="303.40" y2="372.00" stroke="#8aa0ff" stroke-width="1" stroke-linecap="butt"/>
<line x1="299.00" y1="377.00" x2="303.40" y2="377.00" stroke="#8aa0ff" stroke-width="1" stroke-linecap="butt"/>
<line x1="316.32" y1="364.50" x2="316.32" y2="380.10" stroke="#8aa0ff" stroke-width="1" stroke-linecap="butt"/>
<line x1="314.12" y1="364.50" x2="318.52" y2="364.50" stroke="#8aa0ff" stroke-width="1" stroke-linecap="butt"/>
<line x1="314.12" y1="380.10" x2="318.52" y2="380.10" stroke="#8aa0ff" stroke-width="1" stroke-linecap="butt"/>
<line x1="331.44" y1="366.00" x2="331.44" y2="372.00" stroke="#8aa0ff" stroke-width="1" stroke-linecap="butt"/>
<line x1="329.24" y1="366.00" x2="333.64" y2="366.00" stroke="#8aa0ff" stroke-width="1" stroke-linecap="butt"/>
<line x1="329.24" y1="372.00" x2="333.64" y2="372.00" stroke="#8aa0ff" stroke-width="1" stroke-linecap="butt"/>
<line x1="346.56" y1="340.00" x2="346.56" y2="366.00" stroke="#8aa0ff" stroke-width="1" stroke-linecap="butt"/>
<line x1="344.36" y1="340.00" x2="348.76" y2="340.00" stroke="#8aa0ff" stroke-width="1" stroke-linecap="butt"/>
<line x1="344.36" y1="366.00" x2="348.76" y2="366.00" stroke="#8aa0ff" stroke-width="1" stroke-linecap="butt"/>
<line x1="361.68" y1="348.70" x2="361.68" y2="369.30" stroke="#8aa0ff" stroke-width="1" stroke-linecap="butt"/>
<line x1="359.48" y1="348.70" x2="363.88" y2="348.70" stroke="#8aa0ff" stroke-width="1" stroke-linecap="butt"/>
<line x1="359.48" y1="369.30" x2="363.88" y2="369.30" stroke="#8aa0ff" stroke-width="1" stroke-linecap="butt"/>
<line x1="376.80" y1="328.20" x2="376.80" y2="355.20" stroke="#8aa0ff" stroke-width="1" stroke-linecap="butt"/>
<line x1="374.60" y1="328.20" x2="379.00" y2="328.20" stroke="#8aa0ff" stroke-width="1" stroke-linecap="butt"/>
<line x1="374.60" y1="355.20" x2="379.00" y2="355.20" stroke="#8aa0ff" stroke-width="1" stroke-linecap="butt"/>
<line x1="391.92" y1="341.00" x2="391.92" y2="354.10" stroke="#8aa0ff" stroke-width="1" stroke-linecap="butt"/>
<line x1="389.72" y1="341.00" x2="394.12" y2="341.00" stroke="#8aa0ff" stroke-width="1" stroke-linecap="butt"/>
<line x1="389.72" y1="354.10" x2="394.12" y2="354.10" stroke="#8aa0ff" stroke-width="1" stroke-linecap="butt"/>
<line x1="407.04" y1="336.40" x2="407.04" y2="363.20" stroke="#8aa0ff" stroke-width="1" stroke-linecap="butt"/>
<line x1="404.84" y1="336.40" x2="409.24" y2="336.40" stroke="#8aa0ff" stroke-width="1" stroke-linecap="butt"/>
<line x1="404.84" y1="363.20" x2="409.24" y2="363.20" stroke="#8aa0ff" stroke-width="1" stroke-linecap="butt"/>
<line x1="422.16" y1="319.50" x2="422.16" y2="350.20" stroke="#8aa0ff" stroke-width="1" stroke-linecap="butt"/>
<line x1="419.96" y1="319.50" x2="424.36" y2="319.50" stroke="#8aa0ff" stroke-width="1" stroke-linecap="butt"/>
<line x1="419.96" y1="350.20" x2="424.36" y2="350.20" stroke="#8aa0ff" stroke-width="1" stroke-linecap="butt"/>
<line x1="437.28" y1="326.00" x2="437.28" y2="352.40" stroke="#8aa0ff" stroke-width="1" stroke-linecap="butt"/>
<line x1="435.08" y1="326.00" x2="439.48" y2="326.00" stroke="#8aa0ff" stroke-width="1" stroke-linecap="butt"/>
<line x1="435.08" y1="352.40" x2="439.48" y2="352.40" stroke="#8aa0ff" stroke-width="1" stroke-linecap="butt"/>
<line x1="452.40" y1="332.50" x2="452.40" y2="345.90" stroke="#8aa0ff" stroke-width="1" stroke-linecap="butt"/>
<line x1="450.20" y1="332.50" x2="454.60" y2="332.50" stroke="#8aa0ff" stroke-width="1" stroke-linecap="butt"/>
<line x1="450.20" y1="345.90" x2="454.60" y2="345.90" stroke="#8aa0ff" stroke-width="1" stroke-linecap="butt"/>
<polyline points="301.20,374.39 302.46,374.35 303.72,374.31 304.98,374.26 306.24,374.20 307.50,374.14 308.76,374.08 310.02,374.00 311.28,373.92 312.54,373.82 313.80,373.72 315.06,373.60 316.32,373.47 317.58,373.33 318.84,373.17 320.10,372.99 321.36,372.80 322.62,372.58 323.88,372.34 325.14,372.08 326.40,371.79 327.66,371.47 328.92,371.12 330.18,370.74 331.44,370.32 332.70,369.87 333.96,369.38 335.22,368.86 336.48,368.29 337.74,367.68 339.00,367.04 340.26,366.35 341.52,365.62 342.78,364.86 344.04,364.07 345.30,363.24 346.56,362.39 347.82,361.51 349.08,360.61 350.34,359.71 351.60,358.79 352.86,357.88 354.12,356.97 355.38,356.07 356.64,355.19 357.90,354.33 359.16,353.50 360.42,352.70 361.68,351.93 362.94,351.19 364.20,350.50 365.46,349.84 366.72,349.23 367.98,348.65 369.24,348.11 370.50,347.62 371.76,347.16 373.02,346.73 374.28,346.35 375.54,345.99 376.80,345.66 378.06,345.37 379.32,345.10 380.58,344.85 381.84,344.63 383.10,344.43 384.36,344.25 385.62,344.09 386.88,343.94 388.14,343.81 389.40,343.69 390.66,343.58 391.92,343.48 393.18,343.40 394.44,343.32 395.70,343.25 396.96,343.19 398.22,343.13 399.48,343.08 400.74,343.04 402.00,343.00 403.26,342.96 404.52,342.93 405.78,342.90 407.04,342.88 408.30,342.85 409.56,342.83 410.82,342.81 412.08,342.80 413.34,342.78 414.60,342.77 415.86,342.76 417.12,342.75 418.38,342.74 419.64,342.73 420.90,342.72 422.16,342.72 423.42,342.71 424.68,342.71 425.94,342.70 427.20,342.70 428.46,342.69 429.72,342.69 430.98,342.69 432.24,342.69 433.50,342.68 434.76,342.68 436.02,342.68 437.28,342.68 438.54,342.68 439.80,342.67 441.06,342.67 442.32,342.67 443.58,342.67 444.84,342.67 446.10,342.67 447.36,342.67 448.62,342.67 449.88,342.67 451.14,342.67 452.40,342.67" fill="none" stroke="#0f3cff" stroke-width="2.2" stroke-linejoin="round"/>
<circle cx="301.20" cy="374.70" r="2.1" fill="#0f3cff"/>
<circle cx="316.32" cy="370.30" r="2.1" fill="#0f3cff"/>
<circle cx="331.44" cy="368.80" r="2.1" fill="#0f3cff"/>
<circle cx="346.56" cy="353.70" r="2.1" fill="#0f3cff"/>
<circle cx="361.68" cy="360.20" r="2.1" fill="#0f3cff"/>
<circle cx="376.80" cy="341.60" r="2.1" fill="#0f3cff"/>
<circle cx="391.92" cy="347.60" r="2.1" fill="#0f3cff"/>
<circle cx="407.04" cy="349.80" r="2.1" fill="#0f3cff"/>
<circle cx="422.16" cy="334.60" r="2.1" fill="#0f3cff"/>
<circle cx="437.28" cy="339.60" r="2.1" fill="#0f3cff"/>
<circle cx="452.40" cy="339.40" r="2.1" fill="#0f3cff"/>
<line x1="301.20" y1="365.40" x2="301.20" y2="376.00" stroke="#ff8070" stroke-width="1" stroke-linecap="butt"/>
<line x1="299.00" y1="365.40" x2="303.40" y2="365.40" stroke="#ff8070" stroke-width="1" stroke-linecap="butt"/>
<line x1="299.00" y1="376.00" x2="303.40" y2="376.00" stroke="#ff8070" stroke-width="1" stroke-linecap="butt"/>
<line x1="316.32" y1="366.00" x2="316.32" y2="371.00" stroke="#ff8070" stroke-width="1" stroke-linecap="butt"/>
<line x1="314.12" y1="366.00" x2="318.52" y2="366.00" stroke="#ff8070" stroke-width="1" stroke-linecap="butt"/>
<line x1="314.12" y1="371.00" x2="318.52" y2="371.00" stroke="#ff8070" stroke-width="1" stroke-linecap="butt"/>
<line x1="331.44" y1="352.00" x2="331.44" y2="366.00" stroke="#ff8070" stroke-width="1" stroke-linecap="butt"/>
<line x1="329.24" y1="352.00" x2="333.64" y2="352.00" stroke="#ff8070" stroke-width="1" stroke-linecap="butt"/>
<line x1="329.24" y1="366.00" x2="333.64" y2="366.00" stroke="#ff8070" stroke-width="1" stroke-linecap="butt"/>
<line x1="346.56" y1="336.40" x2="346.56" y2="350.90" stroke="#ff8070" stroke-width="1" stroke-linecap="butt"/>
<line x1="344.36" y1="336.40" x2="348.76" y2="336.40" stroke="#ff8070" stroke-width="1" stroke-linecap="butt"/>
<line x1="344.36" y1="350.90" x2="348.76" y2="350.90" stroke="#ff8070" stroke-width="1" stroke-linecap="butt"/>
<line x1="361.68" y1="334.60" x2="361.68" y2="350.00" stroke="#ff8070" stroke-width="1" stroke-linecap="butt"/>
<line x1="359.48" y1="334.60" x2="363.88" y2="334.60" stroke="#ff8070" stroke-width="1" stroke-linecap="butt"/>
<line x1="359.48" y1="350.00" x2="363.88" y2="350.00" stroke="#ff8070" stroke-width="1" stroke-linecap="butt"/>
<line x1="376.80" y1="320.10" x2="376.80" y2="342.00" stroke="#ff8070" stroke-width="1" stroke-linecap="butt"/>
<line x1="374.60" y1="320.10" x2="379.00" y2="320.10" stroke="#ff8070" stroke-width="1" stroke-linecap="butt"/>
<line x1="374.60" y1="342.00" x2="379.00" y2="342.00" stroke="#ff8070" stroke-width="1" stroke-linecap="butt"/>
<line x1="391.92" y1="330.00" x2="391.92" y2="347.60" stroke="#ff8070" stroke-width="1" stroke-linecap="butt"/>
<line x1="389.72" y1="330.00" x2="394.12" y2="330.00" stroke="#ff8070" stroke-width="1" stroke-linecap="butt"/>
<line x1="389.72" y1="347.60" x2="394.12" y2="347.60" stroke="#ff8070" stroke-width="1" stroke-linecap="butt"/>
<line x1="407.04" y1="317.30" x2="407.04" y2="341.10" stroke="#ff8070" stroke-width="1" stroke-linecap="butt"/>
<line x1="404.84" y1="317.30" x2="409.24" y2="317.30" stroke="#ff8070" stroke-width="1" stroke-linecap="butt"/>
<line x1="404.84" y1="341.10" x2="409.24" y2="341.10" stroke="#ff8070" stroke-width="1" stroke-linecap="butt"/>
<line x1="422.16" y1="316.90" x2="422.16" y2="338.50" stroke="#ff8070" stroke-width="1" stroke-linecap="butt"/>
<line x1="419.96" y1="316.90" x2="424.36" y2="316.90" stroke="#ff8070" stroke-width="1" stroke-linecap="butt"/>
<line x1="419.96" y1="338.50" x2="424.36" y2="338.50" stroke="#ff8070" stroke-width="1" stroke-linecap="butt"/>
<line x1="437.28" y1="314.50" x2="437.28" y2="336.80" stroke="#ff8070" stroke-width="1" stroke-linecap="butt"/>
<line x1="435.08" y1="314.50" x2="439.48" y2="314.50" stroke="#ff8070" stroke-width="1" stroke-linecap="butt"/>
<line x1="435.08" y1="336.80" x2="439.48" y2="336.80" stroke="#ff8070" stroke-width="1" stroke-linecap="butt"/>
<line x1="452.40" y1="307.60" x2="452.40" y2="329.20" stroke="#ff8070" stroke-width="1" stroke-linecap="butt"/>
<line x1="450.20" y1="307.60" x2="454.60" y2="307.60" stroke="#ff8070" stroke-width="1" stroke-linecap="butt"/>
<line x1="450.20" y1="329.20" x2="454.60" y2="329.20" stroke="#ff8070" stroke-width="1" stroke-linecap="butt"/>
<polyline points="301.20,370.45 302.46,370.38 303.72,370.31 304.98,370.23 306.24,370.13 307.50,370.03 308.76,369.91 310.02,369.78 311.28,369.63 312.54,369.46 313.80,369.28 315.06,369.07 316.32,368.83 317.58,368.57 318.84,368.28 320.10,367.95 321.36,367.59 322.62,367.19 323.88,366.75 325.14,366.26 326.40,365.72 327.66,365.13 328.92,364.48 330.18,363.78 331.44,363.02 332.70,362.20 333.96,361.31 335.22,360.37 336.48,359.37 337.74,358.31 339.00,357.20 340.26,356.04 341.52,354.85 342.78,353.62 344.04,352.36 345.30,351.09 346.56,349.81 347.82,348.54 349.08,347.27 350.34,346.03 351.60,344.82 352.86,343.65 354.12,342.53 355.38,341.45 356.64,340.43 357.90,339.47 359.16,338.57 360.42,337.73 361.68,336.95 362.94,336.23 364.20,335.56 365.46,334.96 366.72,334.40 367.98,333.90 369.24,333.44 370.50,333.03 371.76,332.65 373.02,332.32 374.28,332.01 375.54,331.74 376.80,331.50 378.06,331.28 379.32,331.09 380.58,330.92 381.84,330.76 383.10,330.63 384.36,330.50 385.62,330.39 386.88,330.30 388.14,330.21 389.40,330.14 390.66,330.07 391.92,330.01 393.18,329.96 394.44,329.91 395.70,329.87 396.96,329.83 398.22,329.80 399.48,329.77 400.74,329.75 402.00,329.72 403.26,329.70 404.52,329.69 405.78,329.67 407.04,329.66 408.30,329.64 409.56,329.63 410.82,329.62 412.08,329.62 413.34,329.61 414.60,329.60 415.86,329.60 417.12,329.59 418.38,329.59 419.64,329.58 420.90,329.58 422.16,329.58 423.42,329.57 424.68,329.57 425.94,329.57 427.20,329.57 428.46,329.56 429.72,329.56 430.98,329.56 432.24,329.56 433.50,329.56 434.76,329.56 436.02,329.56 437.28,329.56 438.54,329.56 439.80,329.56 441.06,329.56 442.32,329.56 443.58,329.55 444.84,329.55 446.10,329.55 447.36,329.55 448.62,329.55 449.88,329.55 451.14,329.55 452.40,329.55" fill="none" stroke="#ff2200" stroke-width="2.2" stroke-linejoin="round"/>
<circle cx="301.20" cy="371.90" r="2.1" fill="#ff2200"/>
<circle cx="316.32" cy="368.80" r="2.1" fill="#ff2200"/>
<circle cx="331.44" cy="361.70" r="2.1" fill="#ff2200"/>
<circle cx="346.56" cy="344.40" r="2.1" fill="#ff2200"/>
<circle cx="361.68" cy="342.20" r="2.1" fill="#ff2200"/>
<circle cx="376.80" cy="331.40" r="2.1" fill="#ff2200"/>
<circle cx="391.92" cy="339.00" r="2.1" fill="#ff2200"/>
<circle cx="407.04" cy="329.90" r="2.1" fill="#ff2200"/>
<circle cx="422.16" cy="327.50" r="2.1" fill="#ff2200"/>
<circle cx="437.28" cy="326.00" r="2.1" fill="#ff2200"/>
<circle cx="452.40" cy="319.10" r="2.1" fill="#ff2200"/>
</svg></div></body></html>
